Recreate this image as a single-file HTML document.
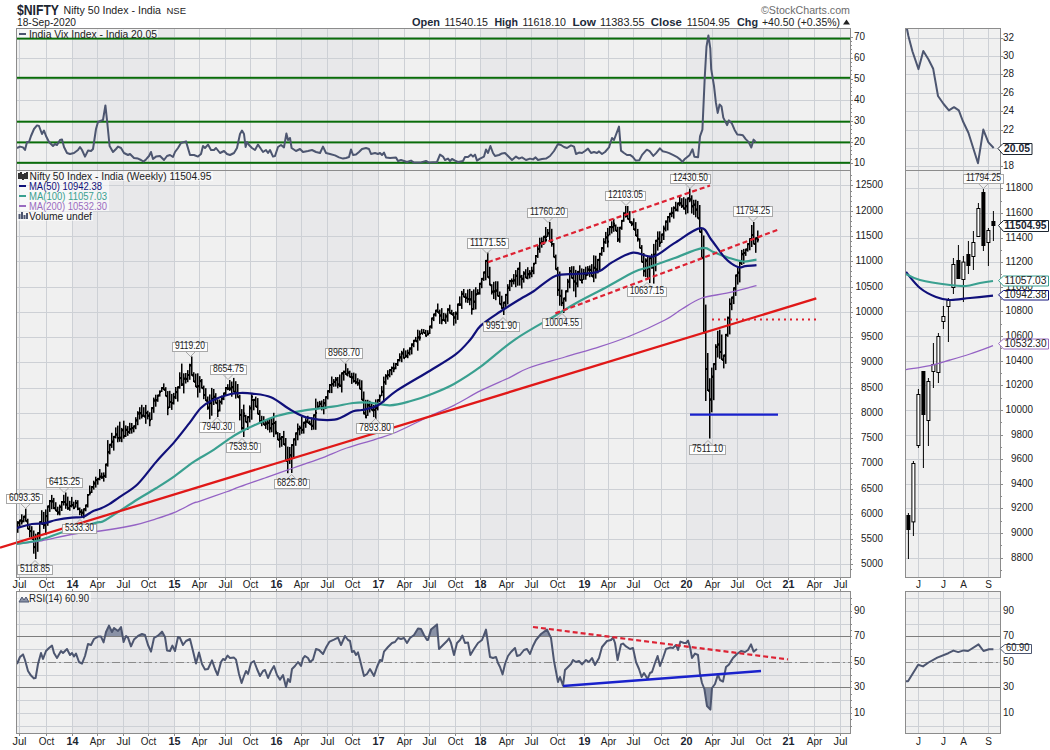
<!DOCTYPE html><html><head><meta charset="utf-8"><style>html,body{margin:0;padding:0;background:#fff;width:1050px;height:750px;overflow:hidden}svg{display:block}</style></head><body><svg width="1050" height="750" viewBox="0 0 1050 750" font-family='"Liberation Sans", sans-serif' shape-rendering="auto">
<rect width="1050" height="750" fill="#fff"/>
<text x="17" y="15" font-size="14" font-weight="bold" fill="#1c2530" text-anchor="start" textLength="42" lengthAdjust="spacingAndGlyphs" >$NIFTY</text>
<text x="63.5" y="14" font-size="11" font-weight="normal" fill="#222" text-anchor="start" textLength="97.5" lengthAdjust="spacingAndGlyphs" >Nifty 50 Index - India</text>
<text x="166.5" y="14" font-size="9.5" font-weight="normal" fill="#222" text-anchor="start" textLength="19.5" lengthAdjust="spacingAndGlyphs" >NSE</text>
<text x="17" y="26" font-size="10" font-weight="normal" fill="#222" text-anchor="start" textLength="59" lengthAdjust="spacingAndGlyphs" >18-Sep-2020</text>
<text x="761" y="14" font-size="11" font-weight="normal" fill="#6d6d6d" text-anchor="start" textLength="89" lengthAdjust="spacingAndGlyphs" >©StockCharts.com</text>
<text x="412" y="25.5" font-size="11" font-weight="bold" fill="#1c2a3a" text-anchor="start" textLength="28" lengthAdjust="spacingAndGlyphs" >Open</text>
<text x="444.4" y="25.5" font-size="11" font-weight="normal" fill="#222" text-anchor="start" textLength="43.6" lengthAdjust="spacingAndGlyphs" >11540.15</text>
<text x="494.4" y="25.5" font-size="11" font-weight="bold" fill="#1c2a3a" text-anchor="start" textLength="23.6" lengthAdjust="spacingAndGlyphs" >High</text>
<text x="522.4" y="25.5" font-size="11" font-weight="normal" fill="#222" text-anchor="start" textLength="43.6" lengthAdjust="spacingAndGlyphs" >11618.10</text>
<text x="572.4" y="25.5" font-size="11" font-weight="bold" fill="#1c2a3a" text-anchor="start" textLength="23.6" lengthAdjust="spacingAndGlyphs" >Low</text>
<text x="600" y="25.5" font-size="11" font-weight="normal" fill="#222" text-anchor="start" textLength="44.6" lengthAdjust="spacingAndGlyphs" >11383.55</text>
<text x="650.8" y="25.5" font-size="11" font-weight="bold" fill="#1c2a3a" text-anchor="start" textLength="31" lengthAdjust="spacingAndGlyphs" >Close</text>
<text x="686.7" y="25.5" font-size="11" font-weight="normal" fill="#222" text-anchor="start" textLength="43.3" lengthAdjust="spacingAndGlyphs" >11504.95</text>
<text x="737" y="25.5" font-size="11" font-weight="bold" fill="#1c2a3a" text-anchor="start" textLength="21" lengthAdjust="spacingAndGlyphs" >Chg</text>
<text x="762" y="25.5" font-size="11" font-weight="normal" fill="#222" text-anchor="start" textLength="78" lengthAdjust="spacingAndGlyphs" >+40.50 (+0.35%)</text>
<path d="M843 24.5 L850 24.5 L846.5 19.5 Z" fill="#222"/>
<rect x="16" y="28" width="56" height="142" fill="#f0f0f0"/>
<rect x="72" y="28" width="102" height="142" fill="#e8e8ea"/>
<rect x="174" y="28" width="102" height="142" fill="#f0f0f0"/>
<rect x="276" y="28" width="102" height="142" fill="#e8e8ea"/>
<rect x="378" y="28" width="102" height="142" fill="#f0f0f0"/>
<rect x="480" y="28" width="104" height="142" fill="#e8e8ea"/>
<rect x="584" y="28" width="102" height="142" fill="#f0f0f0"/>
<rect x="686" y="28" width="102" height="142" fill="#e8e8ea"/>
<rect x="788" y="28" width="62" height="142" fill="#f0f0f0"/>
<rect x="19" y="28" width="1" height="142" fill="#cdd0d5"/>
<rect x="46" y="28" width="1" height="142" fill="#cdd0d5"/>
<rect x="72" y="28" width="1" height="142" fill="#cdd0d5"/>
<rect x="97" y="28" width="1" height="142" fill="#cdd0d5"/>
<rect x="123" y="28" width="1" height="142" fill="#cdd0d5"/>
<rect x="148" y="28" width="1" height="142" fill="#cdd0d5"/>
<rect x="174" y="28" width="1" height="142" fill="#cdd0d5"/>
<rect x="199" y="28" width="1" height="142" fill="#cdd0d5"/>
<rect x="225" y="28" width="1" height="142" fill="#cdd0d5"/>
<rect x="250" y="28" width="1" height="142" fill="#cdd0d5"/>
<rect x="276" y="28" width="1" height="142" fill="#cdd0d5"/>
<rect x="301" y="28" width="1" height="142" fill="#cdd0d5"/>
<rect x="327" y="28" width="1" height="142" fill="#cdd0d5"/>
<rect x="352" y="28" width="1" height="142" fill="#cdd0d5"/>
<rect x="378" y="28" width="1" height="142" fill="#cdd0d5"/>
<rect x="404" y="28" width="1" height="142" fill="#cdd0d5"/>
<rect x="429" y="28" width="1" height="142" fill="#cdd0d5"/>
<rect x="455" y="28" width="1" height="142" fill="#cdd0d5"/>
<rect x="480" y="28" width="1" height="142" fill="#cdd0d5"/>
<rect x="506" y="28" width="1" height="142" fill="#cdd0d5"/>
<rect x="531" y="28" width="1" height="142" fill="#cdd0d5"/>
<rect x="557" y="28" width="1" height="142" fill="#cdd0d5"/>
<rect x="584" y="28" width="1" height="142" fill="#cdd0d5"/>
<rect x="608" y="28" width="1" height="142" fill="#cdd0d5"/>
<rect x="633" y="28" width="1" height="142" fill="#cdd0d5"/>
<rect x="661" y="28" width="1" height="142" fill="#cdd0d5"/>
<rect x="686" y="28" width="1" height="142" fill="#cdd0d5"/>
<rect x="712" y="28" width="1" height="142" fill="#cdd0d5"/>
<rect x="737" y="28" width="1" height="142" fill="#cdd0d5"/>
<rect x="763" y="28" width="1" height="142" fill="#cdd0d5"/>
<rect x="788" y="28" width="1" height="142" fill="#cdd0d5"/>
<rect x="814" y="28" width="1" height="142" fill="#cdd0d5"/>
<rect x="840" y="28" width="1" height="142" fill="#cdd0d5"/>
<rect x="16" y="163" width="834" height="1" fill="#cdd0d5"/>
<rect x="16" y="142" width="834" height="1" fill="#cdd0d5"/>
<rect x="16" y="121" width="834" height="1" fill="#cdd0d5"/>
<rect x="16" y="100" width="834" height="1" fill="#cdd0d5"/>
<rect x="16" y="79" width="834" height="1" fill="#cdd0d5"/>
<rect x="16" y="58" width="834" height="1" fill="#cdd0d5"/>
<rect x="16" y="37" width="834" height="1" fill="#cdd0d5"/>
<rect x="16" y="37.60" width="834" height="2" fill="#0a6c0a"/>
<rect x="16" y="76.80" width="834" height="2" fill="#0a6c0a"/>
<rect x="16" y="120.70" width="834" height="2" fill="#0a6c0a"/>
<rect x="16" y="141.40" width="834" height="2" fill="#0a6c0a"/>
<rect x="16" y="161.80" width="834" height="2" fill="#0a6c0a"/>
<polyline points="17.0,148.0 20.0,146.6 23.0,147.4 25.0,150.0 27.0,142.0 29.0,142.0 31.0,136.0 34.0,129.0 37.0,125.4 39.0,126.0 42.0,134.0 44.0,130.6 46.0,136.0 49.0,142.0 53.0,146.0 55.0,144.0 57.0,145.0 60.0,140.0 62.0,139.4 64.0,147.0 67.0,153.0 70.0,154.0 74.0,153.0 78.0,150.0 80.0,147.0 82.0,150.0 85.0,156.6 88.0,150.6 91.0,151.0 93.0,149.0 96.0,129.0 98.0,122.0 101.0,120.6 103.0,120.0 105.4,105.4 107.0,120.0 109.6,146.0 113.0,152.0 116.0,149.0 118.0,146.6 121.0,148.0 124.0,153.0 128.0,155.0 130.0,154.0 134.0,158.0 138.0,158.6 141.0,160.0 143.6,161.6 146.0,159.4 149.0,156.0 151.0,152.0 153.0,159.0 156.0,156.6 160.0,156.0 164.0,160.0 167.0,156.0 170.0,155.0 173.0,157.0 175.0,152.0 178.0,148.0 181.0,143.0 186.0,141.4 190.0,155.0 194.0,155.0 198.0,156.6 201.0,154.0 203.0,146.0 205.0,148.0 208.0,144.6 211.0,150.0 214.0,150.0 216.0,148.0 220.0,153.0 224.0,151.0 227.0,154.0 230.0,155.0 234.0,153.0 237.0,148.0 240.0,134.0 242.0,130.6 244.0,134.0 245.6,147.0 247.0,142.0 249.0,145.0 252.0,148.0 255.0,150.0 258.0,144.6 261.0,149.0 263.0,152.0 266.0,150.0 268.0,153.0 270.0,150.0 273.0,156.6 275.0,156.0 278.0,147.0 281.0,145.0 284.0,147.4 286.4,133.4 288.0,140.0 290.0,138.0 291.6,148.0 296.0,151.0 300.0,149.0 303.0,152.0 308.0,151.0 312.0,150.0 316.0,152.0 320.0,153.0 323.0,146.6 326.0,153.0 330.0,154.0 335.0,155.4 339.0,157.4 343.0,158.6 346.0,158.0 349.0,157.0 351.0,149.4 353.0,155.0 356.0,154.6 359.0,152.0 362.0,149.0 366.0,148.0 369.0,149.0 371.0,154.0 375.0,153.0 378.0,154.0 380.0,153.0 382.0,155.0 384.0,152.6 386.0,157.4 390.0,158.0 396.0,157.4 398.0,161.0 401.0,160.0 404.0,161.0 407.0,162.0 411.0,160.6 414.0,162.6 420.0,162.6 426.0,161.0 429.0,162.6 437.0,162.0 440.0,154.6 443.0,156.6 445.0,160.0 448.0,158.6 450.0,161.0 452.0,159.0 455.0,160.6 458.0,162.0 463.0,161.0 465.0,157.0 468.0,157.0 471.0,154.6 473.0,156.6 475.0,154.6 477.0,160.6 480.0,158.6 484.0,156.6 486.0,149.4 488.0,153.0 490.4,146.0 493.0,153.0 495.0,156.0 499.0,155.0 502.0,153.4 505.0,153.0 508.0,156.0 512.0,160.0 516.0,156.6 519.0,158.6 522.0,157.4 526.0,160.0 530.0,158.6 533.0,159.4 535.6,157.4 538.0,160.0 542.0,159.0 546.0,158.6 550.0,156.0 554.0,151.0 558.0,144.0 561.0,145.0 564.0,147.0 567.0,148.0 571.0,145.4 574.0,146.6 576.0,154.0 579.0,152.6 582.0,153.0 585.0,151.0 588.0,148.6 591.0,153.0 594.0,152.0 597.0,153.0 599.0,151.4 602.0,154.0 605.0,152.0 609.0,147.4 612.0,138.0 614.0,140.0 619.0,126.6 621.0,150.6 624.0,153.0 627.0,155.0 630.0,154.9 632.8,156.8 635.6,160.5 639.3,160.2 642.1,154.9 646.8,149.7 649.6,151.2 653.3,155.9 656.1,153.1 659.9,148.4 662.7,151.2 666.4,152.1 669.2,153.1 672.9,154.9 676.7,156.8 680.4,159.6 682.3,162.0 685.1,158.7 687.9,156.4 689.7,154.9 692.5,149.3 694.4,156.8 698.1,157.2 700.0,136.3 702.4,129.7 704.7,78.4 706.5,46.7 708.4,35.5 710.3,48.5 711.2,69.1 714.0,85.9 715.9,102.7 717.7,112.9 719.6,104.5 721.5,106.4 723.3,117.6 727.1,125.1 728.9,120.4 731.7,123.2 734.5,129.7 737.3,134.4 740.1,134.8 742.9,135.3 745.7,139.1 748.5,141.9 751.3,147.5 753.6,139.6 756.0,142.2" fill="none" stroke="#4d5670" stroke-width="2" stroke-linejoin="round" />
<rect x="17" y="29" width="141" height="8.5" fill="#fff" fill-opacity="0.55"/>
<rect x="19" y="33" width="7" height="2" fill="#4d5670"/>
<text x="29" y="37.5" font-size="10" font-weight="normal" fill="#222" text-anchor="start" textLength="128" lengthAdjust="spacingAndGlyphs" >India Vix Index - India 20.05</text>
<text x="854" y="165.7" font-size="10" font-weight="normal" fill="#222" text-anchor="start" textLength="11" lengthAdjust="spacingAndGlyphs" >10</text>
<text x="854" y="144.7" font-size="10" font-weight="normal" fill="#222" text-anchor="start" textLength="11" lengthAdjust="spacingAndGlyphs" >20</text>
<text x="854" y="123.69999999999999" font-size="10" font-weight="normal" fill="#222" text-anchor="start" textLength="11" lengthAdjust="spacingAndGlyphs" >30</text>
<text x="854" y="102.69999999999999" font-size="10" font-weight="normal" fill="#222" text-anchor="start" textLength="11" lengthAdjust="spacingAndGlyphs" >40</text>
<text x="854" y="81.69999999999999" font-size="10" font-weight="normal" fill="#222" text-anchor="start" textLength="11" lengthAdjust="spacingAndGlyphs" >50</text>
<text x="854" y="60.69999999999999" font-size="10" font-weight="normal" fill="#222" text-anchor="start" textLength="11" lengthAdjust="spacingAndGlyphs" >60</text>
<text x="854" y="39.69999999999999" font-size="10" font-weight="normal" fill="#222" text-anchor="start" textLength="11" lengthAdjust="spacingAndGlyphs" >70</text>
<rect x="850" y="163" width="3" height="1" fill="#8c8c8c"/>
<rect x="850" y="159" width="2" height="1" fill="#8c8c8c"/>
<rect x="850" y="154" width="2" height="1" fill="#8c8c8c"/>
<rect x="850" y="150" width="2" height="1" fill="#8c8c8c"/>
<rect x="850" y="146" width="2" height="1" fill="#8c8c8c"/>
<rect x="850" y="142" width="3" height="1" fill="#8c8c8c"/>
<rect x="850" y="138" width="2" height="1" fill="#8c8c8c"/>
<rect x="850" y="133" width="2" height="1" fill="#8c8c8c"/>
<rect x="850" y="129" width="2" height="1" fill="#8c8c8c"/>
<rect x="850" y="125" width="2" height="1" fill="#8c8c8c"/>
<rect x="850" y="121" width="3" height="1" fill="#8c8c8c"/>
<rect x="850" y="116" width="2" height="1" fill="#8c8c8c"/>
<rect x="850" y="112" width="2" height="1" fill="#8c8c8c"/>
<rect x="850" y="108" width="2" height="1" fill="#8c8c8c"/>
<rect x="850" y="104" width="2" height="1" fill="#8c8c8c"/>
<rect x="850" y="100" width="3" height="1" fill="#8c8c8c"/>
<rect x="850" y="95" width="2" height="1" fill="#8c8c8c"/>
<rect x="850" y="91" width="2" height="1" fill="#8c8c8c"/>
<rect x="850" y="87" width="2" height="1" fill="#8c8c8c"/>
<rect x="850" y="83" width="2" height="1" fill="#8c8c8c"/>
<rect x="850" y="79" width="3" height="1" fill="#8c8c8c"/>
<rect x="850" y="74" width="2" height="1" fill="#8c8c8c"/>
<rect x="850" y="70" width="2" height="1" fill="#8c8c8c"/>
<rect x="850" y="66" width="2" height="1" fill="#8c8c8c"/>
<rect x="850" y="62" width="2" height="1" fill="#8c8c8c"/>
<rect x="850" y="58" width="3" height="1" fill="#8c8c8c"/>
<rect x="850" y="53" width="2" height="1" fill="#8c8c8c"/>
<rect x="850" y="49" width="2" height="1" fill="#8c8c8c"/>
<rect x="850" y="45" width="2" height="1" fill="#8c8c8c"/>
<rect x="850" y="41" width="2" height="1" fill="#8c8c8c"/>
<rect x="850" y="37" width="3" height="1" fill="#8c8c8c"/>
<rect x="16" y="170" width="56" height="407" fill="#f0f0f0"/>
<rect x="72" y="170" width="102" height="407" fill="#e8e8ea"/>
<rect x="174" y="170" width="102" height="407" fill="#f0f0f0"/>
<rect x="276" y="170" width="102" height="407" fill="#e8e8ea"/>
<rect x="378" y="170" width="102" height="407" fill="#f0f0f0"/>
<rect x="480" y="170" width="104" height="407" fill="#e8e8ea"/>
<rect x="584" y="170" width="102" height="407" fill="#f0f0f0"/>
<rect x="686" y="170" width="102" height="407" fill="#e8e8ea"/>
<rect x="788" y="170" width="62" height="407" fill="#f0f0f0"/>
<rect x="19" y="170" width="1" height="407" fill="#cdd0d5"/>
<rect x="46" y="170" width="1" height="407" fill="#cdd0d5"/>
<rect x="72" y="170" width="1" height="407" fill="#cdd0d5"/>
<rect x="97" y="170" width="1" height="407" fill="#cdd0d5"/>
<rect x="123" y="170" width="1" height="407" fill="#cdd0d5"/>
<rect x="148" y="170" width="1" height="407" fill="#cdd0d5"/>
<rect x="174" y="170" width="1" height="407" fill="#cdd0d5"/>
<rect x="199" y="170" width="1" height="407" fill="#cdd0d5"/>
<rect x="225" y="170" width="1" height="407" fill="#cdd0d5"/>
<rect x="250" y="170" width="1" height="407" fill="#cdd0d5"/>
<rect x="276" y="170" width="1" height="407" fill="#cdd0d5"/>
<rect x="301" y="170" width="1" height="407" fill="#cdd0d5"/>
<rect x="327" y="170" width="1" height="407" fill="#cdd0d5"/>
<rect x="352" y="170" width="1" height="407" fill="#cdd0d5"/>
<rect x="378" y="170" width="1" height="407" fill="#cdd0d5"/>
<rect x="404" y="170" width="1" height="407" fill="#cdd0d5"/>
<rect x="429" y="170" width="1" height="407" fill="#cdd0d5"/>
<rect x="455" y="170" width="1" height="407" fill="#cdd0d5"/>
<rect x="480" y="170" width="1" height="407" fill="#cdd0d5"/>
<rect x="506" y="170" width="1" height="407" fill="#cdd0d5"/>
<rect x="531" y="170" width="1" height="407" fill="#cdd0d5"/>
<rect x="557" y="170" width="1" height="407" fill="#cdd0d5"/>
<rect x="584" y="170" width="1" height="407" fill="#cdd0d5"/>
<rect x="608" y="170" width="1" height="407" fill="#cdd0d5"/>
<rect x="633" y="170" width="1" height="407" fill="#cdd0d5"/>
<rect x="661" y="170" width="1" height="407" fill="#cdd0d5"/>
<rect x="686" y="170" width="1" height="407" fill="#cdd0d5"/>
<rect x="712" y="170" width="1" height="407" fill="#cdd0d5"/>
<rect x="737" y="170" width="1" height="407" fill="#cdd0d5"/>
<rect x="763" y="170" width="1" height="407" fill="#cdd0d5"/>
<rect x="788" y="170" width="1" height="407" fill="#cdd0d5"/>
<rect x="814" y="170" width="1" height="407" fill="#cdd0d5"/>
<rect x="840" y="170" width="1" height="407" fill="#cdd0d5"/>
<rect x="16" y="564" width="834" height="1" fill="#cdd0d5"/>
<rect x="16" y="539" width="834" height="1" fill="#cdd0d5"/>
<rect x="16" y="514" width="834" height="1" fill="#cdd0d5"/>
<rect x="16" y="489" width="834" height="1" fill="#cdd0d5"/>
<rect x="16" y="463" width="834" height="1" fill="#cdd0d5"/>
<rect x="16" y="438" width="834" height="1" fill="#cdd0d5"/>
<rect x="16" y="413" width="834" height="1" fill="#cdd0d5"/>
<rect x="16" y="388" width="834" height="1" fill="#cdd0d5"/>
<rect x="16" y="362" width="834" height="1" fill="#cdd0d5"/>
<rect x="16" y="337" width="834" height="1" fill="#cdd0d5"/>
<rect x="16" y="312" width="834" height="1" fill="#cdd0d5"/>
<rect x="16" y="287" width="834" height="1" fill="#cdd0d5"/>
<rect x="16" y="261" width="834" height="1" fill="#cdd0d5"/>
<rect x="16" y="236" width="834" height="1" fill="#cdd0d5"/>
<rect x="16" y="211" width="834" height="1" fill="#cdd0d5"/>
<rect x="16" y="185" width="834" height="1" fill="#cdd0d5"/>
<rect x="17" y="521.1" width="1.5" height="11.7" fill="#000"/>
<rect x="16" y="527.0" width="1" height="2" fill="#000"/>
<rect x="18" y="521.7" width="1" height="2" fill="#000"/>
<rect x="19" y="519.6" width="1.5" height="6.5" fill="#000"/>
<rect x="18" y="521.7" width="1" height="2" fill="#000"/>
<rect x="20" y="519.6" width="1" height="2" fill="#000"/>
<rect x="21" y="514.3" width="1.5" height="10.2" fill="#000"/>
<rect x="20" y="519.6" width="1" height="2" fill="#000"/>
<rect x="22" y="520.4" width="1" height="2" fill="#000"/>
<rect x="23" y="515.7" width="1.5" height="6.6" fill="#000"/>
<rect x="22" y="520.4" width="1" height="2" fill="#000"/>
<rect x="24" y="515.7" width="1" height="2" fill="#000"/>
<rect x="25" y="508.5" width="1.5" height="13.2" fill="#000"/>
<rect x="24" y="515.7" width="1" height="2" fill="#000"/>
<rect x="26" y="520.2" width="1" height="2" fill="#000"/>
<rect x="27" y="518.7" width="1.5" height="10.6" fill="#000"/>
<rect x="26" y="520.2" width="1" height="2" fill="#000"/>
<rect x="28" y="527.9" width="1" height="2" fill="#000"/>
<rect x="29" y="525.3" width="1.5" height="12.1" fill="#000"/>
<rect x="28" y="527.9" width="1" height="2" fill="#000"/>
<rect x="30" y="530.1" width="1" height="2" fill="#000"/>
<rect x="31" y="526.2" width="1.5" height="13.0" fill="#000"/>
<rect x="30" y="530.1" width="1" height="2" fill="#000"/>
<rect x="32" y="537.7" width="1" height="2" fill="#000"/>
<rect x="33" y="530.5" width="1.5" height="23.2" fill="#000"/>
<rect x="32" y="537.7" width="1" height="2" fill="#000"/>
<rect x="34" y="546.1" width="1" height="2" fill="#000"/>
<rect x="35" y="533.7" width="1.5" height="25.3" fill="#000"/>
<rect x="34" y="546.1" width="1" height="2" fill="#000"/>
<rect x="36" y="540.0" width="1" height="2" fill="#000"/>
<rect x="37" y="532.2" width="1.5" height="19.6" fill="#000"/>
<rect x="36" y="540.0" width="1" height="2" fill="#000"/>
<rect x="38" y="532.2" width="1" height="2" fill="#000"/>
<rect x="39" y="521.3" width="1.5" height="18.5" fill="#000"/>
<rect x="38" y="532.2" width="1" height="2" fill="#000"/>
<rect x="40" y="521.3" width="1" height="2" fill="#000"/>
<rect x="41" y="510.2" width="1.5" height="14.3" fill="#000"/>
<rect x="40" y="521.3" width="1" height="2" fill="#000"/>
<rect x="42" y="523.0" width="1" height="2" fill="#000"/>
<rect x="43" y="511.9" width="1.5" height="17.0" fill="#000"/>
<rect x="42" y="523.0" width="1" height="2" fill="#000"/>
<rect x="44" y="524.1" width="1" height="2" fill="#000"/>
<rect x="45" y="509.4" width="1.5" height="25.5" fill="#000"/>
<rect x="44" y="524.1" width="1" height="2" fill="#000"/>
<rect x="46" y="515.1" width="1" height="2" fill="#000"/>
<rect x="47" y="505.5" width="1.5" height="20.3" fill="#000"/>
<rect x="46" y="515.1" width="1" height="2" fill="#000"/>
<rect x="48" y="505.5" width="1" height="2" fill="#000"/>
<rect x="49" y="500.0" width="1.5" height="11.9" fill="#000"/>
<rect x="48" y="505.5" width="1" height="2" fill="#000"/>
<rect x="50" y="500.1" width="1" height="2" fill="#000"/>
<rect x="51" y="494.9" width="1.5" height="14.3" fill="#000"/>
<rect x="50" y="500.1" width="1" height="2" fill="#000"/>
<rect x="52" y="500.4" width="1" height="2" fill="#000"/>
<rect x="53" y="497.9" width="1.5" height="11.2" fill="#000"/>
<rect x="52" y="500.4" width="1" height="2" fill="#000"/>
<rect x="54" y="507.2" width="1" height="2" fill="#000"/>
<rect x="55" y="502.2" width="1.5" height="9.0" fill="#000"/>
<rect x="54" y="507.2" width="1" height="2" fill="#000"/>
<rect x="56" y="509.7" width="1" height="2" fill="#000"/>
<rect x="57" y="506.7" width="1.5" height="8.5" fill="#000"/>
<rect x="56" y="509.7" width="1" height="2" fill="#000"/>
<rect x="58" y="511.5" width="1" height="2" fill="#000"/>
<rect x="59" y="504.6" width="1.5" height="10.7" fill="#000"/>
<rect x="58" y="511.5" width="1" height="2" fill="#000"/>
<rect x="60" y="505.9" width="1" height="2" fill="#000"/>
<rect x="61" y="501.0" width="1.5" height="10.0" fill="#000"/>
<rect x="60" y="505.9" width="1" height="2" fill="#000"/>
<rect x="62" y="501.0" width="1" height="2" fill="#000"/>
<rect x="63" y="494.8" width="1.5" height="10.7" fill="#000"/>
<rect x="62" y="501.0" width="1" height="2" fill="#000"/>
<rect x="64" y="501.0" width="1" height="2" fill="#000"/>
<rect x="65" y="492.5" width="1.5" height="16.3" fill="#000"/>
<rect x="64" y="501.0" width="1" height="2" fill="#000"/>
<rect x="66" y="503.6" width="1" height="2" fill="#000"/>
<rect x="67" y="496.6" width="1.5" height="13.3" fill="#000"/>
<rect x="66" y="503.6" width="1" height="2" fill="#000"/>
<rect x="68" y="507.3" width="1" height="2" fill="#000"/>
<rect x="69" y="500.8" width="1.5" height="10.0" fill="#000"/>
<rect x="68" y="507.3" width="1" height="2" fill="#000"/>
<rect x="70" y="505.0" width="1" height="2" fill="#000"/>
<rect x="71" y="496.9" width="1.5" height="10.5" fill="#000"/>
<rect x="70" y="505.0" width="1" height="2" fill="#000"/>
<rect x="72" y="504.0" width="1" height="2" fill="#000"/>
<rect x="73" y="501.7" width="1.5" height="7.5" fill="#000"/>
<rect x="72" y="504.0" width="1" height="2" fill="#000"/>
<rect x="74" y="506.9" width="1" height="2" fill="#000"/>
<rect x="75" y="499.9" width="1.5" height="7.7" fill="#000"/>
<rect x="74" y="506.6" width="1" height="2" fill="#000"/>
<rect x="76" y="502.0" width="1" height="2" fill="#000"/>
<rect x="77" y="500.2" width="1.5" height="10.0" fill="#000"/>
<rect x="76" y="502.0" width="1" height="2" fill="#000"/>
<rect x="78" y="507.8" width="1" height="2" fill="#000"/>
<rect x="79" y="507.5" width="1.5" height="7.7" fill="#000"/>
<rect x="78" y="507.8" width="1" height="2" fill="#000"/>
<rect x="80" y="510.8" width="1" height="2" fill="#000"/>
<rect x="81" y="509.2" width="1.5" height="7.8" fill="#000"/>
<rect x="80" y="510.8" width="1" height="2" fill="#000"/>
<rect x="82" y="511.7" width="1" height="2" fill="#000"/>
<rect x="83" y="508.3" width="1.5" height="10.0" fill="#000"/>
<rect x="82" y="511.7" width="1" height="2" fill="#000"/>
<rect x="84" y="508.3" width="1" height="2" fill="#000"/>
<rect x="85" y="504.5" width="1.5" height="6.8" fill="#000"/>
<rect x="84" y="508.3" width="1" height="2" fill="#000"/>
<rect x="86" y="504.5" width="1" height="2" fill="#000"/>
<rect x="87" y="494.0" width="1.5" height="13.5" fill="#000"/>
<rect x="86" y="504.5" width="1" height="2" fill="#000"/>
<rect x="88" y="494.0" width="1" height="2" fill="#000"/>
<rect x="89" y="485.5" width="1.5" height="9.9" fill="#000"/>
<rect x="88" y="494.0" width="1" height="2" fill="#000"/>
<rect x="90" y="491.7" width="1" height="2" fill="#000"/>
<rect x="91" y="486.0" width="1.5" height="7.0" fill="#000"/>
<rect x="90" y="491.7" width="1" height="2" fill="#000"/>
<rect x="92" y="486.0" width="1" height="2" fill="#000"/>
<rect x="93" y="480.7" width="1.5" height="8.9" fill="#000"/>
<rect x="92" y="486.0" width="1" height="2" fill="#000"/>
<rect x="94" y="482.4" width="1" height="2" fill="#000"/>
<rect x="95" y="476.7" width="1.5" height="10.9" fill="#000"/>
<rect x="94" y="482.4" width="1" height="2" fill="#000"/>
<rect x="96" y="479.1" width="1" height="2" fill="#000"/>
<rect x="97" y="477.9" width="1.5" height="6.8" fill="#000"/>
<rect x="96" y="479.1" width="1" height="2" fill="#000"/>
<rect x="98" y="477.9" width="1" height="2" fill="#000"/>
<rect x="99" y="469.1" width="1.5" height="11.2" fill="#000"/>
<rect x="98" y="477.9" width="1" height="2" fill="#000"/>
<rect x="100" y="475.7" width="1" height="2" fill="#000"/>
<rect x="101" y="472.6" width="1.5" height="6.3" fill="#000"/>
<rect x="100" y="475.7" width="1" height="2" fill="#000"/>
<rect x="102" y="476.3" width="1" height="2" fill="#000"/>
<rect x="103" y="472.4" width="1.5" height="9.2" fill="#000"/>
<rect x="102" y="476.3" width="1" height="2" fill="#000"/>
<rect x="104" y="474.9" width="1" height="2" fill="#000"/>
<rect x="105" y="463.6" width="1.5" height="14.3" fill="#000"/>
<rect x="104" y="474.9" width="1" height="2" fill="#000"/>
<rect x="106" y="463.6" width="1" height="2" fill="#000"/>
<rect x="107" y="440.1" width="1.5" height="26.5" fill="#000"/>
<rect x="106" y="463.6" width="1" height="2" fill="#000"/>
<rect x="108" y="451.2" width="1" height="2" fill="#000"/>
<rect x="109" y="443.8" width="1.5" height="10.5" fill="#000"/>
<rect x="108" y="451.2" width="1" height="2" fill="#000"/>
<rect x="110" y="443.8" width="1" height="2" fill="#000"/>
<rect x="111" y="432.8" width="1.5" height="15.1" fill="#000"/>
<rect x="110" y="443.8" width="1" height="2" fill="#000"/>
<rect x="112" y="440.7" width="1" height="2" fill="#000"/>
<rect x="113" y="435.9" width="1.5" height="14.7" fill="#000"/>
<rect x="112" y="440.7" width="1" height="2" fill="#000"/>
<rect x="114" y="435.9" width="1" height="2" fill="#000"/>
<rect x="115" y="427.4" width="1.5" height="11.0" fill="#000"/>
<rect x="114" y="435.9" width="1" height="2" fill="#000"/>
<rect x="116" y="433.5" width="1" height="2" fill="#000"/>
<rect x="117" y="425.6" width="1.5" height="16.7" fill="#000"/>
<rect x="116" y="433.5" width="1" height="2" fill="#000"/>
<rect x="118" y="437.1" width="1" height="2" fill="#000"/>
<rect x="119" y="421.7" width="1.5" height="20.1" fill="#000"/>
<rect x="118" y="437.1" width="1" height="2" fill="#000"/>
<rect x="120" y="436.8" width="1" height="2" fill="#000"/>
<rect x="121" y="427.9" width="1.5" height="14.3" fill="#000"/>
<rect x="120" y="436.8" width="1" height="2" fill="#000"/>
<rect x="122" y="429.2" width="1" height="2" fill="#000"/>
<rect x="123" y="420.7" width="1.5" height="18.0" fill="#000"/>
<rect x="122" y="429.2" width="1" height="2" fill="#000"/>
<rect x="124" y="435.0" width="1" height="2" fill="#000"/>
<rect x="125" y="425.4" width="1.5" height="11.6" fill="#000"/>
<rect x="124" y="435.0" width="1" height="2" fill="#000"/>
<rect x="126" y="428.8" width="1" height="2" fill="#000"/>
<rect x="127" y="426.1" width="1.5" height="9.7" fill="#000"/>
<rect x="126" y="428.8" width="1" height="2" fill="#000"/>
<rect x="128" y="431.0" width="1" height="2" fill="#000"/>
<rect x="129" y="422.8" width="1.5" height="11.1" fill="#000"/>
<rect x="128" y="431.0" width="1" height="2" fill="#000"/>
<rect x="130" y="428.2" width="1" height="2" fill="#000"/>
<rect x="131" y="423.0" width="1.5" height="10.6" fill="#000"/>
<rect x="130" y="428.2" width="1" height="2" fill="#000"/>
<rect x="132" y="427.1" width="1" height="2" fill="#000"/>
<rect x="133" y="425.4" width="1.5" height="6.9" fill="#000"/>
<rect x="132" y="427.1" width="1" height="2" fill="#000"/>
<rect x="134" y="425.4" width="1" height="2" fill="#000"/>
<rect x="135" y="417.2" width="1.5" height="12.0" fill="#000"/>
<rect x="134" y="425.4" width="1" height="2" fill="#000"/>
<rect x="136" y="419.4" width="1" height="2" fill="#000"/>
<rect x="137" y="411.2" width="1.5" height="14.0" fill="#000"/>
<rect x="136" y="419.4" width="1" height="2" fill="#000"/>
<rect x="138" y="412.4" width="1" height="2" fill="#000"/>
<rect x="139" y="407.2" width="1.5" height="12.3" fill="#000"/>
<rect x="138" y="412.4" width="1" height="2" fill="#000"/>
<rect x="140" y="412.2" width="1" height="2" fill="#000"/>
<rect x="141" y="404.8" width="1.5" height="13.7" fill="#000"/>
<rect x="140" y="412.2" width="1" height="2" fill="#000"/>
<rect x="142" y="414.7" width="1" height="2" fill="#000"/>
<rect x="143" y="407.2" width="1.5" height="9.7" fill="#000"/>
<rect x="142" y="414.7" width="1" height="2" fill="#000"/>
<rect x="144" y="415.4" width="1" height="2" fill="#000"/>
<rect x="145" y="404.9" width="1.5" height="18.9" fill="#000"/>
<rect x="144" y="415.4" width="1" height="2" fill="#000"/>
<rect x="146" y="411.9" width="1" height="2" fill="#000"/>
<rect x="147" y="410.7" width="1.5" height="8.7" fill="#000"/>
<rect x="146" y="411.9" width="1" height="2" fill="#000"/>
<rect x="148" y="414.7" width="1" height="2" fill="#000"/>
<rect x="149" y="412.3" width="1.5" height="13.9" fill="#000"/>
<rect x="148" y="414.7" width="1" height="2" fill="#000"/>
<rect x="150" y="419.2" width="1" height="2" fill="#000"/>
<rect x="151" y="407.1" width="1.5" height="12.8" fill="#000"/>
<rect x="150" y="418.9" width="1" height="2" fill="#000"/>
<rect x="152" y="407.1" width="1" height="2" fill="#000"/>
<rect x="153" y="397.6" width="1.5" height="15.2" fill="#000"/>
<rect x="152" y="407.1" width="1" height="2" fill="#000"/>
<rect x="154" y="399.5" width="1" height="2" fill="#000"/>
<rect x="155" y="394.7" width="1.5" height="12.0" fill="#000"/>
<rect x="154" y="399.5" width="1" height="2" fill="#000"/>
<rect x="156" y="399.2" width="1" height="2" fill="#000"/>
<rect x="157" y="394.6" width="1.5" height="7.2" fill="#000"/>
<rect x="156" y="399.2" width="1" height="2" fill="#000"/>
<rect x="158" y="394.6" width="1" height="2" fill="#000"/>
<rect x="159" y="390.4" width="1.5" height="6.2" fill="#000"/>
<rect x="158" y="394.6" width="1" height="2" fill="#000"/>
<rect x="160" y="390.8" width="1" height="2" fill="#000"/>
<rect x="161" y="387.1" width="1.5" height="4.9" fill="#000"/>
<rect x="160" y="390.8" width="1" height="2" fill="#000"/>
<rect x="162" y="387.1" width="1" height="2" fill="#000"/>
<rect x="163" y="383.4" width="1.5" height="6.8" fill="#000"/>
<rect x="162" y="387.1" width="1" height="2" fill="#000"/>
<rect x="164" y="388.7" width="1" height="2" fill="#000"/>
<rect x="165" y="387.2" width="1.5" height="9.3" fill="#000"/>
<rect x="164" y="388.7" width="1" height="2" fill="#000"/>
<rect x="166" y="395.1" width="1" height="2" fill="#000"/>
<rect x="167" y="391.1" width="1.5" height="24.1" fill="#000"/>
<rect x="166" y="395.1" width="1" height="2" fill="#000"/>
<rect x="168" y="406.7" width="1" height="2" fill="#000"/>
<rect x="169" y="390.8" width="1.5" height="17.2" fill="#000"/>
<rect x="168" y="406.7" width="1" height="2" fill="#000"/>
<rect x="170" y="401.0" width="1" height="2" fill="#000"/>
<rect x="171" y="393.9" width="1.5" height="16.0" fill="#000"/>
<rect x="170" y="401.0" width="1" height="2" fill="#000"/>
<rect x="172" y="402.1" width="1" height="2" fill="#000"/>
<rect x="173" y="392.9" width="1.5" height="11.6" fill="#000"/>
<rect x="172" y="402.1" width="1" height="2" fill="#000"/>
<rect x="174" y="396.2" width="1" height="2" fill="#000"/>
<rect x="175" y="387.0" width="1.5" height="12.1" fill="#000"/>
<rect x="174" y="396.2" width="1" height="2" fill="#000"/>
<rect x="176" y="391.1" width="1" height="2" fill="#000"/>
<rect x="177" y="386.3" width="1.5" height="15.3" fill="#000"/>
<rect x="176" y="391.1" width="1" height="2" fill="#000"/>
<rect x="178" y="386.3" width="1" height="2" fill="#000"/>
<rect x="179" y="372.3" width="1.5" height="16.4" fill="#000"/>
<rect x="178" y="386.3" width="1" height="2" fill="#000"/>
<rect x="180" y="377.1" width="1" height="2" fill="#000"/>
<rect x="181" y="363.6" width="1.5" height="22.4" fill="#000"/>
<rect x="180" y="377.1" width="1" height="2" fill="#000"/>
<rect x="182" y="383.5" width="1" height="2" fill="#000"/>
<rect x="183" y="373.3" width="1.5" height="20.1" fill="#000"/>
<rect x="182" y="383.5" width="1" height="2" fill="#000"/>
<rect x="184" y="377.7" width="1" height="2" fill="#000"/>
<rect x="185" y="373.0" width="1.5" height="10.5" fill="#000"/>
<rect x="184" y="377.7" width="1" height="2" fill="#000"/>
<rect x="186" y="377.9" width="1" height="2" fill="#000"/>
<rect x="187" y="370.1" width="1.5" height="12.1" fill="#000"/>
<rect x="186" y="377.9" width="1" height="2" fill="#000"/>
<rect x="188" y="374.0" width="1" height="2" fill="#000"/>
<rect x="189" y="363.7" width="1.5" height="16.1" fill="#000"/>
<rect x="188" y="374.0" width="1" height="2" fill="#000"/>
<rect x="190" y="364.3" width="1" height="2" fill="#000"/>
<rect x="191" y="356.5" width="1.5" height="19.3" fill="#000"/>
<rect x="190" y="364.3" width="1" height="2" fill="#000"/>
<rect x="192" y="374.3" width="1" height="2" fill="#000"/>
<rect x="193" y="372.2" width="1.5" height="9.9" fill="#000"/>
<rect x="192" y="374.3" width="1" height="2" fill="#000"/>
<rect x="194" y="380.6" width="1" height="2" fill="#000"/>
<rect x="195" y="373.6" width="1.5" height="13.6" fill="#000"/>
<rect x="194" y="380.6" width="1" height="2" fill="#000"/>
<rect x="196" y="385.7" width="1" height="2" fill="#000"/>
<rect x="197" y="373.3" width="1.5" height="24.2" fill="#000"/>
<rect x="196" y="385.7" width="1" height="2" fill="#000"/>
<rect x="198" y="385.2" width="1" height="2" fill="#000"/>
<rect x="199" y="376.1" width="1.5" height="16.7" fill="#000"/>
<rect x="198" y="385.2" width="1" height="2" fill="#000"/>
<rect x="200" y="380.1" width="1" height="2" fill="#000"/>
<rect x="201" y="379.0" width="1.5" height="9.6" fill="#000"/>
<rect x="200" y="380.1" width="1" height="2" fill="#000"/>
<rect x="202" y="387.1" width="1" height="2" fill="#000"/>
<rect x="203" y="385.6" width="1.5" height="13.6" fill="#000"/>
<rect x="202" y="387.1" width="1" height="2" fill="#000"/>
<rect x="204" y="394.0" width="1" height="2" fill="#000"/>
<rect x="205" y="388.2" width="1.5" height="12.9" fill="#000"/>
<rect x="204" y="394.0" width="1" height="2" fill="#000"/>
<rect x="206" y="399.6" width="1" height="2" fill="#000"/>
<rect x="207" y="396.5" width="1.5" height="13.3" fill="#000"/>
<rect x="206" y="399.6" width="1" height="2" fill="#000"/>
<rect x="208" y="406.7" width="1" height="2" fill="#000"/>
<rect x="209" y="394.4" width="1.5" height="24.8" fill="#000"/>
<rect x="208" y="406.7" width="1" height="2" fill="#000"/>
<rect x="210" y="402.1" width="1" height="2" fill="#000"/>
<rect x="211" y="387.9" width="1.5" height="27.8" fill="#000"/>
<rect x="210" y="402.1" width="1" height="2" fill="#000"/>
<rect x="212" y="397.9" width="1" height="2" fill="#000"/>
<rect x="213" y="389.0" width="1.5" height="16.0" fill="#000"/>
<rect x="212" y="397.9" width="1" height="2" fill="#000"/>
<rect x="214" y="395.8" width="1" height="2" fill="#000"/>
<rect x="215" y="393.2" width="1.5" height="10.4" fill="#000"/>
<rect x="214" y="395.8" width="1" height="2" fill="#000"/>
<rect x="216" y="402.1" width="1" height="2" fill="#000"/>
<rect x="217" y="399.3" width="1.5" height="17.7" fill="#000"/>
<rect x="216" y="402.1" width="1" height="2" fill="#000"/>
<rect x="218" y="409.7" width="1" height="2" fill="#000"/>
<rect x="219" y="399.5" width="1.5" height="12.0" fill="#000"/>
<rect x="218" y="409.7" width="1" height="2" fill="#000"/>
<rect x="220" y="401.0" width="1" height="2" fill="#000"/>
<rect x="221" y="395.6" width="1.5" height="8.9" fill="#000"/>
<rect x="220" y="401.0" width="1" height="2" fill="#000"/>
<rect x="222" y="397.6" width="1" height="2" fill="#000"/>
<rect x="223" y="392.5" width="1.5" height="7.6" fill="#000"/>
<rect x="222" y="397.6" width="1" height="2" fill="#000"/>
<rect x="224" y="392.5" width="1" height="2" fill="#000"/>
<rect x="225" y="387.0" width="1.5" height="8.8" fill="#000"/>
<rect x="224" y="392.5" width="1" height="2" fill="#000"/>
<rect x="226" y="387.2" width="1" height="2" fill="#000"/>
<rect x="227" y="384.2" width="1.5" height="6.0" fill="#000"/>
<rect x="226" y="387.2" width="1" height="2" fill="#000"/>
<rect x="228" y="387.6" width="1" height="2" fill="#000"/>
<rect x="229" y="380.0" width="1.5" height="10.9" fill="#000"/>
<rect x="228" y="387.6" width="1" height="2" fill="#000"/>
<rect x="230" y="387.6" width="1" height="2" fill="#000"/>
<rect x="231" y="381.5" width="1.5" height="15.2" fill="#000"/>
<rect x="230" y="387.6" width="1" height="2" fill="#000"/>
<rect x="232" y="386.2" width="1" height="2" fill="#000"/>
<rect x="233" y="377.9" width="1.5" height="14.4" fill="#000"/>
<rect x="232" y="386.2" width="1" height="2" fill="#000"/>
<rect x="234" y="390.8" width="1" height="2" fill="#000"/>
<rect x="235" y="381.2" width="1.5" height="17.4" fill="#000"/>
<rect x="234" y="390.8" width="1" height="2" fill="#000"/>
<rect x="236" y="391.9" width="1" height="2" fill="#000"/>
<rect x="237" y="384.0" width="1.5" height="13.8" fill="#000"/>
<rect x="236" y="391.9" width="1" height="2" fill="#000"/>
<rect x="238" y="396.2" width="1" height="2" fill="#000"/>
<rect x="239" y="394.7" width="1.5" height="25.7" fill="#000"/>
<rect x="238" y="396.2" width="1" height="2" fill="#000"/>
<rect x="240" y="413.9" width="1" height="2" fill="#000"/>
<rect x="241" y="409.1" width="1.5" height="20.7" fill="#000"/>
<rect x="240" y="413.9" width="1" height="2" fill="#000"/>
<rect x="242" y="427.2" width="1" height="2" fill="#000"/>
<rect x="243" y="404.6" width="1.5" height="32.4" fill="#000"/>
<rect x="242" y="427.2" width="1" height="2" fill="#000"/>
<rect x="244" y="412.5" width="1" height="2" fill="#000"/>
<rect x="245" y="414.8" width="1.5" height="7.7" fill="#000"/>
<rect x="244" y="414.8" width="1" height="2" fill="#000"/>
<rect x="246" y="421.1" width="1" height="2" fill="#000"/>
<rect x="247" y="416.1" width="1.5" height="13.9" fill="#000"/>
<rect x="246" y="421.1" width="1" height="2" fill="#000"/>
<rect x="248" y="416.1" width="1" height="2" fill="#000"/>
<rect x="249" y="405.4" width="1.5" height="17.0" fill="#000"/>
<rect x="248" y="416.1" width="1" height="2" fill="#000"/>
<rect x="250" y="407.3" width="1" height="2" fill="#000"/>
<rect x="251" y="394.2" width="1.5" height="25.5" fill="#000"/>
<rect x="250" y="407.3" width="1" height="2" fill="#000"/>
<rect x="252" y="395.7" width="1" height="2" fill="#000"/>
<rect x="253" y="398.9" width="1.5" height="11.4" fill="#000"/>
<rect x="252" y="398.9" width="1" height="2" fill="#000"/>
<rect x="254" y="398.9" width="1" height="2" fill="#000"/>
<rect x="255" y="396.6" width="1.5" height="10.6" fill="#000"/>
<rect x="254" y="398.9" width="1" height="2" fill="#000"/>
<rect x="256" y="405.7" width="1" height="2" fill="#000"/>
<rect x="257" y="398.1" width="1.5" height="16.3" fill="#000"/>
<rect x="256" y="405.7" width="1" height="2" fill="#000"/>
<rect x="258" y="412.9" width="1" height="2" fill="#000"/>
<rect x="259" y="410.1" width="1.5" height="13.8" fill="#000"/>
<rect x="258" y="412.9" width="1" height="2" fill="#000"/>
<rect x="260" y="420.3" width="1" height="2" fill="#000"/>
<rect x="261" y="415.8" width="1.5" height="10.4" fill="#000"/>
<rect x="260" y="420.3" width="1" height="2" fill="#000"/>
<rect x="262" y="420.8" width="1" height="2" fill="#000"/>
<rect x="263" y="416.2" width="1.5" height="8.9" fill="#000"/>
<rect x="262" y="420.8" width="1" height="2" fill="#000"/>
<rect x="264" y="423.6" width="1" height="2" fill="#000"/>
<rect x="265" y="420.7" width="1.5" height="8.2" fill="#000"/>
<rect x="264" y="423.6" width="1" height="2" fill="#000"/>
<rect x="266" y="422.6" width="1" height="2" fill="#000"/>
<rect x="267" y="419.3" width="1.5" height="10.9" fill="#000"/>
<rect x="266" y="422.6" width="1" height="2" fill="#000"/>
<rect x="268" y="421.8" width="1" height="2" fill="#000"/>
<rect x="269" y="418.3" width="1.5" height="14.3" fill="#000"/>
<rect x="268" y="421.8" width="1" height="2" fill="#000"/>
<rect x="270" y="427.3" width="1" height="2" fill="#000"/>
<rect x="271" y="417.0" width="1.5" height="15.3" fill="#000"/>
<rect x="270" y="427.3" width="1" height="2" fill="#000"/>
<rect x="272" y="423.0" width="1" height="2" fill="#000"/>
<rect x="273" y="412.8" width="1.5" height="24.3" fill="#000"/>
<rect x="272" y="423.0" width="1" height="2" fill="#000"/>
<rect x="274" y="422.0" width="1" height="2" fill="#000"/>
<rect x="275" y="420.8" width="1.5" height="13.7" fill="#000"/>
<rect x="274" y="422.0" width="1" height="2" fill="#000"/>
<rect x="276" y="430.7" width="1" height="2" fill="#000"/>
<rect x="277" y="432.1" width="1.5" height="8.1" fill="#000"/>
<rect x="276" y="432.1" width="1" height="2" fill="#000"/>
<rect x="278" y="438.7" width="1" height="2" fill="#000"/>
<rect x="279" y="433.0" width="1.5" height="14.6" fill="#000"/>
<rect x="278" y="438.7" width="1" height="2" fill="#000"/>
<rect x="280" y="437.6" width="1" height="2" fill="#000"/>
<rect x="281" y="436.0" width="1.5" height="10.7" fill="#000"/>
<rect x="280" y="437.6" width="1" height="2" fill="#000"/>
<rect x="282" y="436.0" width="1" height="2" fill="#000"/>
<rect x="283" y="430.9" width="1.5" height="14.1" fill="#000"/>
<rect x="282" y="436.0" width="1" height="2" fill="#000"/>
<rect x="284" y="443.4" width="1" height="2" fill="#000"/>
<rect x="285" y="438.0" width="1.5" height="23.3" fill="#000"/>
<rect x="284" y="443.4" width="1" height="2" fill="#000"/>
<rect x="286" y="459.8" width="1" height="2" fill="#000"/>
<rect x="287" y="446.6" width="1.5" height="26.6" fill="#000"/>
<rect x="286" y="459.8" width="1" height="2" fill="#000"/>
<rect x="288" y="458.5" width="1" height="2" fill="#000"/>
<rect x="289" y="447.0" width="1.5" height="17.0" fill="#000"/>
<rect x="288" y="458.5" width="1" height="2" fill="#000"/>
<rect x="290" y="454.3" width="1" height="2" fill="#000"/>
<rect x="291" y="444.1" width="1.5" height="28.9" fill="#000"/>
<rect x="290" y="454.3" width="1" height="2" fill="#000"/>
<rect x="292" y="444.1" width="1" height="2" fill="#000"/>
<rect x="293" y="438.3" width="1.5" height="20.4" fill="#000"/>
<rect x="292" y="444.1" width="1" height="2" fill="#000"/>
<rect x="294" y="438.3" width="1" height="2" fill="#000"/>
<rect x="295" y="432.4" width="1.5" height="13.4" fill="#000"/>
<rect x="294" y="438.3" width="1" height="2" fill="#000"/>
<rect x="296" y="432.4" width="1" height="2" fill="#000"/>
<rect x="297" y="423.5" width="1.5" height="16.8" fill="#000"/>
<rect x="296" y="432.4" width="1" height="2" fill="#000"/>
<rect x="298" y="428.2" width="1" height="2" fill="#000"/>
<rect x="299" y="425.6" width="1.5" height="9.7" fill="#000"/>
<rect x="298" y="428.2" width="1" height="2" fill="#000"/>
<rect x="300" y="427.0" width="1" height="2" fill="#000"/>
<rect x="301" y="416.7" width="1.5" height="17.1" fill="#000"/>
<rect x="300" y="427.0" width="1" height="2" fill="#000"/>
<rect x="302" y="428.9" width="1" height="2" fill="#000"/>
<rect x="303" y="421.7" width="1.5" height="11.9" fill="#000"/>
<rect x="302" y="428.9" width="1" height="2" fill="#000"/>
<rect x="304" y="421.7" width="1" height="2" fill="#000"/>
<rect x="305" y="418.2" width="1.5" height="9.6" fill="#000"/>
<rect x="304" y="421.7" width="1" height="2" fill="#000"/>
<rect x="306" y="420.6" width="1" height="2" fill="#000"/>
<rect x="307" y="415.8" width="1.5" height="7.4" fill="#000"/>
<rect x="306" y="420.6" width="1" height="2" fill="#000"/>
<rect x="308" y="421.8" width="1" height="2" fill="#000"/>
<rect x="309" y="420.6" width="1.5" height="4.3" fill="#000"/>
<rect x="308" y="421.8" width="1" height="2" fill="#000"/>
<rect x="310" y="423.3" width="1" height="2" fill="#000"/>
<rect x="311" y="417.4" width="1.5" height="12.7" fill="#000"/>
<rect x="310" y="423.3" width="1" height="2" fill="#000"/>
<rect x="312" y="424.8" width="1" height="2" fill="#000"/>
<rect x="313" y="414.3" width="1.5" height="15.4" fill="#000"/>
<rect x="312" y="424.8" width="1" height="2" fill="#000"/>
<rect x="314" y="414.3" width="1" height="2" fill="#000"/>
<rect x="315" y="398.6" width="1.5" height="31.2" fill="#000"/>
<rect x="314" y="414.3" width="1" height="2" fill="#000"/>
<rect x="316" y="411.8" width="1" height="2" fill="#000"/>
<rect x="317" y="401.7" width="1.5" height="7.4" fill="#000"/>
<rect x="316" y="408.2" width="1" height="2" fill="#000"/>
<rect x="318" y="405.8" width="1" height="2" fill="#000"/>
<rect x="319" y="400.9" width="1.5" height="6.6" fill="#000"/>
<rect x="318" y="405.8" width="1" height="2" fill="#000"/>
<rect x="320" y="402.8" width="1" height="2" fill="#000"/>
<rect x="321" y="400.5" width="1.5" height="9.9" fill="#000"/>
<rect x="320" y="402.8" width="1" height="2" fill="#000"/>
<rect x="322" y="406.3" width="1" height="2" fill="#000"/>
<rect x="323" y="399.0" width="1.5" height="15.3" fill="#000"/>
<rect x="322" y="406.3" width="1" height="2" fill="#000"/>
<rect x="324" y="402.2" width="1" height="2" fill="#000"/>
<rect x="325" y="396.2" width="1.5" height="12.9" fill="#000"/>
<rect x="324" y="402.2" width="1" height="2" fill="#000"/>
<rect x="326" y="396.2" width="1" height="2" fill="#000"/>
<rect x="327" y="390.2" width="1.5" height="9.2" fill="#000"/>
<rect x="326" y="396.2" width="1" height="2" fill="#000"/>
<rect x="328" y="390.2" width="1" height="2" fill="#000"/>
<rect x="329" y="384.0" width="1.5" height="9.1" fill="#000"/>
<rect x="328" y="390.2" width="1" height="2" fill="#000"/>
<rect x="330" y="384.0" width="1" height="2" fill="#000"/>
<rect x="331" y="376.5" width="1.5" height="16.6" fill="#000"/>
<rect x="330" y="384.0" width="1" height="2" fill="#000"/>
<rect x="332" y="383.2" width="1" height="2" fill="#000"/>
<rect x="333" y="379.1" width="1.5" height="7.7" fill="#000"/>
<rect x="332" y="383.2" width="1" height="2" fill="#000"/>
<rect x="334" y="380.9" width="1" height="2" fill="#000"/>
<rect x="335" y="377.0" width="1.5" height="9.6" fill="#000"/>
<rect x="334" y="380.9" width="1" height="2" fill="#000"/>
<rect x="336" y="378.6" width="1" height="2" fill="#000"/>
<rect x="337" y="377.0" width="1.5" height="11.3" fill="#000"/>
<rect x="336" y="378.6" width="1" height="2" fill="#000"/>
<rect x="338" y="383.5" width="1" height="2" fill="#000"/>
<rect x="339" y="374.5" width="1.5" height="12.6" fill="#000"/>
<rect x="338" y="383.5" width="1" height="2" fill="#000"/>
<rect x="340" y="384.7" width="1" height="2" fill="#000"/>
<rect x="341" y="372.3" width="1.5" height="20.2" fill="#000"/>
<rect x="340" y="384.7" width="1" height="2" fill="#000"/>
<rect x="342" y="372.3" width="1" height="2" fill="#000"/>
<rect x="343" y="370.6" width="1.5" height="10.0" fill="#000"/>
<rect x="342" y="372.3" width="1" height="2" fill="#000"/>
<rect x="344" y="370.9" width="1" height="2" fill="#000"/>
<rect x="345" y="363.5" width="1.5" height="11.4" fill="#000"/>
<rect x="344" y="370.9" width="1" height="2" fill="#000"/>
<rect x="346" y="373.4" width="1" height="2" fill="#000"/>
<rect x="347" y="368.2" width="1.5" height="8.2" fill="#000"/>
<rect x="346" y="373.4" width="1" height="2" fill="#000"/>
<rect x="348" y="371.6" width="1" height="2" fill="#000"/>
<rect x="349" y="370.7" width="1.5" height="6.8" fill="#000"/>
<rect x="348" y="371.6" width="1" height="2" fill="#000"/>
<rect x="350" y="376.0" width="1" height="2" fill="#000"/>
<rect x="351" y="372.8" width="1.5" height="11.1" fill="#000"/>
<rect x="350" y="376.0" width="1" height="2" fill="#000"/>
<rect x="352" y="376.4" width="1" height="2" fill="#000"/>
<rect x="353" y="372.6" width="1.5" height="10.0" fill="#000"/>
<rect x="352" y="376.4" width="1" height="2" fill="#000"/>
<rect x="354" y="380.0" width="1" height="2" fill="#000"/>
<rect x="355" y="373.5" width="1.5" height="10.7" fill="#000"/>
<rect x="354" y="380.0" width="1" height="2" fill="#000"/>
<rect x="356" y="381.3" width="1" height="2" fill="#000"/>
<rect x="357" y="378.2" width="1.5" height="7.6" fill="#000"/>
<rect x="356" y="381.3" width="1" height="2" fill="#000"/>
<rect x="358" y="382.3" width="1" height="2" fill="#000"/>
<rect x="359" y="379.5" width="1.5" height="9.8" fill="#000"/>
<rect x="358" y="382.3" width="1" height="2" fill="#000"/>
<rect x="360" y="387.8" width="1" height="2" fill="#000"/>
<rect x="361" y="380.3" width="1.5" height="19.9" fill="#000"/>
<rect x="360" y="387.8" width="1" height="2" fill="#000"/>
<rect x="362" y="398.8" width="1" height="2" fill="#000"/>
<rect x="363" y="391.5" width="1.5" height="22.9" fill="#000"/>
<rect x="362" y="398.8" width="1" height="2" fill="#000"/>
<rect x="364" y="412.4" width="1" height="2" fill="#000"/>
<rect x="365" y="399.8" width="1.5" height="18.5" fill="#000"/>
<rect x="364" y="412.4" width="1" height="2" fill="#000"/>
<rect x="366" y="416.3" width="1" height="2" fill="#000"/>
<rect x="367" y="399.8" width="1.5" height="16.1" fill="#000"/>
<rect x="366" y="414.9" width="1" height="2" fill="#000"/>
<rect x="368" y="404.3" width="1" height="2" fill="#000"/>
<rect x="369" y="400.8" width="1.5" height="11.7" fill="#000"/>
<rect x="368" y="404.3" width="1" height="2" fill="#000"/>
<rect x="370" y="406.4" width="1" height="2" fill="#000"/>
<rect x="371" y="403.9" width="1.5" height="6.7" fill="#000"/>
<rect x="370" y="406.4" width="1" height="2" fill="#000"/>
<rect x="372" y="409.2" width="1" height="2" fill="#000"/>
<rect x="373" y="404.9" width="1.5" height="12.2" fill="#000"/>
<rect x="372" y="409.2" width="1" height="2" fill="#000"/>
<rect x="374" y="408.9" width="1" height="2" fill="#000"/>
<rect x="375" y="399.4" width="1.5" height="19.6" fill="#000"/>
<rect x="374" y="408.9" width="1" height="2" fill="#000"/>
<rect x="376" y="406.8" width="1" height="2" fill="#000"/>
<rect x="377" y="399.2" width="1.5" height="11.2" fill="#000"/>
<rect x="376" y="406.8" width="1" height="2" fill="#000"/>
<rect x="378" y="399.2" width="1" height="2" fill="#000"/>
<rect x="379" y="394.5" width="1.5" height="7.7" fill="#000"/>
<rect x="378" y="399.2" width="1" height="2" fill="#000"/>
<rect x="380" y="395.5" width="1" height="2" fill="#000"/>
<rect x="381" y="386.1" width="1.5" height="10.1" fill="#000"/>
<rect x="380" y="395.2" width="1" height="2" fill="#000"/>
<rect x="382" y="390.7" width="1" height="2" fill="#000"/>
<rect x="383" y="376.6" width="1.5" height="25.7" fill="#000"/>
<rect x="382" y="390.7" width="1" height="2" fill="#000"/>
<rect x="384" y="381.2" width="1" height="2" fill="#000"/>
<rect x="385" y="374.1" width="1.5" height="10.7" fill="#000"/>
<rect x="384" y="381.2" width="1" height="2" fill="#000"/>
<rect x="386" y="375.2" width="1" height="2" fill="#000"/>
<rect x="387" y="370.2" width="1.5" height="9.4" fill="#000"/>
<rect x="386" y="375.2" width="1" height="2" fill="#000"/>
<rect x="388" y="374.0" width="1" height="2" fill="#000"/>
<rect x="389" y="369.1" width="1.5" height="8.2" fill="#000"/>
<rect x="388" y="374.0" width="1" height="2" fill="#000"/>
<rect x="390" y="369.1" width="1" height="2" fill="#000"/>
<rect x="391" y="366.5" width="1.5" height="8.7" fill="#000"/>
<rect x="390" y="369.1" width="1" height="2" fill="#000"/>
<rect x="392" y="367.0" width="1" height="2" fill="#000"/>
<rect x="393" y="362.7" width="1.5" height="9.5" fill="#000"/>
<rect x="392" y="367.0" width="1" height="2" fill="#000"/>
<rect x="394" y="367.5" width="1" height="2" fill="#000"/>
<rect x="395" y="363.0" width="1.5" height="6.3" fill="#000"/>
<rect x="394" y="367.5" width="1" height="2" fill="#000"/>
<rect x="396" y="363.0" width="1" height="2" fill="#000"/>
<rect x="397" y="359.1" width="1.5" height="6.9" fill="#000"/>
<rect x="396" y="363.0" width="1" height="2" fill="#000"/>
<rect x="398" y="359.1" width="1" height="2" fill="#000"/>
<rect x="399" y="353.3" width="1.5" height="8.2" fill="#000"/>
<rect x="398" y="359.1" width="1" height="2" fill="#000"/>
<rect x="400" y="356.4" width="1" height="2" fill="#000"/>
<rect x="401" y="350.8" width="1.5" height="11.4" fill="#000"/>
<rect x="400" y="356.4" width="1" height="2" fill="#000"/>
<rect x="402" y="352.4" width="1" height="2" fill="#000"/>
<rect x="403" y="348.3" width="1.5" height="10.4" fill="#000"/>
<rect x="402" y="352.4" width="1" height="2" fill="#000"/>
<rect x="404" y="357.2" width="1" height="2" fill="#000"/>
<rect x="405" y="350.4" width="1.5" height="7.5" fill="#000"/>
<rect x="404" y="356.9" width="1" height="2" fill="#000"/>
<rect x="406" y="354.9" width="1" height="2" fill="#000"/>
<rect x="407" y="349.6" width="1.5" height="8.6" fill="#000"/>
<rect x="406" y="354.9" width="1" height="2" fill="#000"/>
<rect x="408" y="351.9" width="1" height="2" fill="#000"/>
<rect x="409" y="347.3" width="1.5" height="8.1" fill="#000"/>
<rect x="408" y="351.9" width="1" height="2" fill="#000"/>
<rect x="410" y="347.6" width="1" height="2" fill="#000"/>
<rect x="411" y="343.3" width="1.5" height="11.1" fill="#000"/>
<rect x="410" y="347.6" width="1" height="2" fill="#000"/>
<rect x="412" y="343.6" width="1" height="2" fill="#000"/>
<rect x="413" y="339.8" width="1.5" height="7.4" fill="#000"/>
<rect x="412" y="343.6" width="1" height="2" fill="#000"/>
<rect x="414" y="339.8" width="1" height="2" fill="#000"/>
<rect x="415" y="336.9" width="1.5" height="4.9" fill="#000"/>
<rect x="414" y="339.8" width="1" height="2" fill="#000"/>
<rect x="416" y="340.2" width="1" height="2" fill="#000"/>
<rect x="417" y="329.7" width="1.5" height="21.0" fill="#000"/>
<rect x="416" y="340.2" width="1" height="2" fill="#000"/>
<rect x="418" y="336.4" width="1" height="2" fill="#000"/>
<rect x="419" y="330.4" width="1.5" height="10.2" fill="#000"/>
<rect x="418" y="336.4" width="1" height="2" fill="#000"/>
<rect x="420" y="336.6" width="1" height="2" fill="#000"/>
<rect x="421" y="328.9" width="1.5" height="5.2" fill="#000"/>
<rect x="420" y="333.1" width="1" height="2" fill="#000"/>
<rect x="422" y="332.6" width="1" height="2" fill="#000"/>
<rect x="423" y="329.1" width="1.5" height="4.3" fill="#000"/>
<rect x="422" y="332.5" width="1" height="2" fill="#000"/>
<rect x="424" y="332.0" width="1" height="2" fill="#000"/>
<rect x="425" y="329.9" width="1.5" height="6.8" fill="#000"/>
<rect x="424" y="332.0" width="1" height="2" fill="#000"/>
<rect x="426" y="334.8" width="1" height="2" fill="#000"/>
<rect x="427" y="330.2" width="1.5" height="5.5" fill="#000"/>
<rect x="426" y="334.6" width="1" height="2" fill="#000"/>
<rect x="428" y="332.8" width="1" height="2" fill="#000"/>
<rect x="429" y="325.6" width="1.5" height="8.4" fill="#000"/>
<rect x="428" y="332.8" width="1" height="2" fill="#000"/>
<rect x="430" y="325.6" width="1" height="2" fill="#000"/>
<rect x="431" y="317.5" width="1.5" height="11.1" fill="#000"/>
<rect x="430" y="325.6" width="1" height="2" fill="#000"/>
<rect x="432" y="317.5" width="1" height="2" fill="#000"/>
<rect x="433" y="313.5" width="1.5" height="7.6" fill="#000"/>
<rect x="432" y="317.5" width="1" height="2" fill="#000"/>
<rect x="434" y="313.5" width="1" height="2" fill="#000"/>
<rect x="435" y="309.7" width="1.5" height="6.8" fill="#000"/>
<rect x="434" y="313.5" width="1" height="2" fill="#000"/>
<rect x="436" y="309.7" width="1" height="2" fill="#000"/>
<rect x="437" y="303.5" width="1.5" height="9.4" fill="#000"/>
<rect x="436" y="309.7" width="1" height="2" fill="#000"/>
<rect x="438" y="311.5" width="1" height="2" fill="#000"/>
<rect x="439" y="309.6" width="1.5" height="14.3" fill="#000"/>
<rect x="438" y="311.5" width="1" height="2" fill="#000"/>
<rect x="440" y="314.5" width="1" height="2" fill="#000"/>
<rect x="441" y="308.1" width="1.5" height="16.2" fill="#000"/>
<rect x="440" y="314.5" width="1" height="2" fill="#000"/>
<rect x="442" y="319.2" width="1" height="2" fill="#000"/>
<rect x="443" y="312.9" width="1.5" height="8.1" fill="#000"/>
<rect x="442" y="319.2" width="1" height="2" fill="#000"/>
<rect x="444" y="319.5" width="1" height="2" fill="#000"/>
<rect x="445" y="313.4" width="1.5" height="10.4" fill="#000"/>
<rect x="444" y="319.5" width="1" height="2" fill="#000"/>
<rect x="446" y="315.4" width="1" height="2" fill="#000"/>
<rect x="447" y="308.2" width="1.5" height="13.5" fill="#000"/>
<rect x="446" y="315.4" width="1" height="2" fill="#000"/>
<rect x="448" y="308.6" width="1" height="2" fill="#000"/>
<rect x="449" y="304.7" width="1.5" height="9.0" fill="#000"/>
<rect x="448" y="308.6" width="1" height="2" fill="#000"/>
<rect x="450" y="312.2" width="1" height="2" fill="#000"/>
<rect x="451" y="309.8" width="1.5" height="5.2" fill="#000"/>
<rect x="450" y="312.2" width="1" height="2" fill="#000"/>
<rect x="452" y="313.5" width="1" height="2" fill="#000"/>
<rect x="453" y="312.0" width="1.5" height="13.6" fill="#000"/>
<rect x="452" y="313.5" width="1" height="2" fill="#000"/>
<rect x="454" y="316.5" width="1" height="2" fill="#000"/>
<rect x="455" y="311.4" width="1.5" height="12.2" fill="#000"/>
<rect x="454" y="316.5" width="1" height="2" fill="#000"/>
<rect x="456" y="312.5" width="1" height="2" fill="#000"/>
<rect x="457" y="303.5" width="1.5" height="16.4" fill="#000"/>
<rect x="456" y="312.5" width="1" height="2" fill="#000"/>
<rect x="458" y="303.5" width="1" height="2" fill="#000"/>
<rect x="459" y="296.4" width="1.5" height="9.6" fill="#000"/>
<rect x="458" y="303.5" width="1" height="2" fill="#000"/>
<rect x="460" y="303.6" width="1" height="2" fill="#000"/>
<rect x="461" y="290.9" width="1.5" height="18.0" fill="#000"/>
<rect x="460" y="303.6" width="1" height="2" fill="#000"/>
<rect x="462" y="292.8" width="1" height="2" fill="#000"/>
<rect x="463" y="289.0" width="1.5" height="8.4" fill="#000"/>
<rect x="462" y="292.8" width="1" height="2" fill="#000"/>
<rect x="464" y="295.9" width="1" height="2" fill="#000"/>
<rect x="465" y="293.2" width="1.5" height="9.4" fill="#000"/>
<rect x="464" y="295.9" width="1" height="2" fill="#000"/>
<rect x="466" y="296.8" width="1" height="2" fill="#000"/>
<rect x="467" y="289.5" width="1.5" height="13.4" fill="#000"/>
<rect x="466" y="296.8" width="1" height="2" fill="#000"/>
<rect x="468" y="298.1" width="1" height="2" fill="#000"/>
<rect x="469" y="288.9" width="1.5" height="16.3" fill="#000"/>
<rect x="468" y="298.1" width="1" height="2" fill="#000"/>
<rect x="470" y="298.4" width="1" height="2" fill="#000"/>
<rect x="471" y="290.9" width="1.5" height="23.7" fill="#000"/>
<rect x="470" y="298.4" width="1" height="2" fill="#000"/>
<rect x="472" y="308.1" width="1" height="2" fill="#000"/>
<rect x="473" y="289.4" width="1.5" height="20.5" fill="#000"/>
<rect x="472" y="308.1" width="1" height="2" fill="#000"/>
<rect x="474" y="300.7" width="1" height="2" fill="#000"/>
<rect x="475" y="287.2" width="1.5" height="22.2" fill="#000"/>
<rect x="474" y="300.7" width="1" height="2" fill="#000"/>
<rect x="476" y="293.4" width="1" height="2" fill="#000"/>
<rect x="477" y="289.2" width="1.5" height="5.7" fill="#000"/>
<rect x="476" y="293.4" width="1" height="2" fill="#000"/>
<rect x="478" y="292.3" width="1" height="2" fill="#000"/>
<rect x="479" y="282.8" width="1.5" height="11.8" fill="#000"/>
<rect x="478" y="292.3" width="1" height="2" fill="#000"/>
<rect x="480" y="282.8" width="1" height="2" fill="#000"/>
<rect x="481" y="277.9" width="1.5" height="10.3" fill="#000"/>
<rect x="480" y="282.8" width="1" height="2" fill="#000"/>
<rect x="482" y="277.9" width="1" height="2" fill="#000"/>
<rect x="483" y="271.5" width="1.5" height="9.4" fill="#000"/>
<rect x="482" y="277.9" width="1" height="2" fill="#000"/>
<rect x="484" y="271.5" width="1" height="2" fill="#000"/>
<rect x="485" y="259.9" width="1.5" height="20.4" fill="#000"/>
<rect x="484" y="271.5" width="1" height="2" fill="#000"/>
<rect x="486" y="259.9" width="1" height="2" fill="#000"/>
<rect x="487" y="252.5" width="1.5" height="25.3" fill="#000"/>
<rect x="486" y="259.9" width="1" height="2" fill="#000"/>
<rect x="488" y="276.3" width="1" height="2" fill="#000"/>
<rect x="489" y="266.8" width="1.5" height="18.7" fill="#000"/>
<rect x="488" y="276.3" width="1" height="2" fill="#000"/>
<rect x="490" y="283.6" width="1" height="2" fill="#000"/>
<rect x="491" y="284.2" width="1.5" height="10.3" fill="#000"/>
<rect x="490" y="284.2" width="1" height="2" fill="#000"/>
<rect x="492" y="290.7" width="1" height="2" fill="#000"/>
<rect x="493" y="281.8" width="1.5" height="17.2" fill="#000"/>
<rect x="492" y="290.7" width="1" height="2" fill="#000"/>
<rect x="494" y="290.4" width="1" height="2" fill="#000"/>
<rect x="495" y="281.2" width="1.5" height="19.0" fill="#000"/>
<rect x="494" y="290.4" width="1" height="2" fill="#000"/>
<rect x="496" y="289.6" width="1" height="2" fill="#000"/>
<rect x="497" y="281.3" width="1.5" height="15.2" fill="#000"/>
<rect x="496" y="289.6" width="1" height="2" fill="#000"/>
<rect x="498" y="295.0" width="1" height="2" fill="#000"/>
<rect x="499" y="291.5" width="1.5" height="13.1" fill="#000"/>
<rect x="498" y="295.0" width="1" height="2" fill="#000"/>
<rect x="500" y="303.2" width="1" height="2" fill="#000"/>
<rect x="501" y="295.7" width="1.5" height="13.2" fill="#000"/>
<rect x="500" y="303.2" width="1" height="2" fill="#000"/>
<rect x="502" y="307.4" width="1" height="2" fill="#000"/>
<rect x="503" y="301.7" width="1.5" height="13.3" fill="#000"/>
<rect x="502" y="307.4" width="1" height="2" fill="#000"/>
<rect x="504" y="301.7" width="1" height="2" fill="#000"/>
<rect x="505" y="293.9" width="1.5" height="13.0" fill="#000"/>
<rect x="504" y="301.7" width="1" height="2" fill="#000"/>
<rect x="506" y="293.9" width="1" height="2" fill="#000"/>
<rect x="507" y="284.2" width="1.5" height="20.2" fill="#000"/>
<rect x="506" y="293.9" width="1" height="2" fill="#000"/>
<rect x="508" y="286.7" width="1" height="2" fill="#000"/>
<rect x="509" y="279.9" width="1.5" height="11.2" fill="#000"/>
<rect x="508" y="286.7" width="1" height="2" fill="#000"/>
<rect x="510" y="280.1" width="1" height="2" fill="#000"/>
<rect x="511" y="278.5" width="1.5" height="8.4" fill="#000"/>
<rect x="510" y="280.1" width="1" height="2" fill="#000"/>
<rect x="512" y="280.0" width="1" height="2" fill="#000"/>
<rect x="513" y="274.1" width="1.5" height="10.3" fill="#000"/>
<rect x="512" y="280.0" width="1" height="2" fill="#000"/>
<rect x="514" y="279.4" width="1" height="2" fill="#000"/>
<rect x="515" y="270.1" width="1.5" height="17.1" fill="#000"/>
<rect x="514" y="279.4" width="1" height="2" fill="#000"/>
<rect x="516" y="274.8" width="1" height="2" fill="#000"/>
<rect x="517" y="267.8" width="1.5" height="17.9" fill="#000"/>
<rect x="516" y="274.8" width="1" height="2" fill="#000"/>
<rect x="518" y="267.8" width="1" height="2" fill="#000"/>
<rect x="519" y="262.1" width="1.5" height="23.5" fill="#000"/>
<rect x="518" y="267.8" width="1" height="2" fill="#000"/>
<rect x="520" y="275.6" width="1" height="2" fill="#000"/>
<rect x="521" y="274.9" width="1.5" height="13.6" fill="#000"/>
<rect x="520" y="275.6" width="1" height="2" fill="#000"/>
<rect x="522" y="277.8" width="1" height="2" fill="#000"/>
<rect x="523" y="271.2" width="1.5" height="11.4" fill="#000"/>
<rect x="522" y="277.8" width="1" height="2" fill="#000"/>
<rect x="524" y="272.5" width="1" height="2" fill="#000"/>
<rect x="525" y="269.2" width="1.5" height="9.1" fill="#000"/>
<rect x="524" y="272.5" width="1" height="2" fill="#000"/>
<rect x="526" y="276.7" width="1" height="2" fill="#000"/>
<rect x="527" y="267.2" width="1.5" height="12.1" fill="#000"/>
<rect x="526" y="276.7" width="1" height="2" fill="#000"/>
<rect x="528" y="273.2" width="1" height="2" fill="#000"/>
<rect x="529" y="270.1" width="1.5" height="8.4" fill="#000"/>
<rect x="528" y="273.2" width="1" height="2" fill="#000"/>
<rect x="530" y="272.5" width="1" height="2" fill="#000"/>
<rect x="531" y="266.7" width="1.5" height="10.5" fill="#000"/>
<rect x="530" y="272.5" width="1" height="2" fill="#000"/>
<rect x="532" y="269.9" width="1" height="2" fill="#000"/>
<rect x="533" y="262.8" width="1.5" height="11.4" fill="#000"/>
<rect x="532" y="269.9" width="1" height="2" fill="#000"/>
<rect x="534" y="262.8" width="1" height="2" fill="#000"/>
<rect x="535" y="255.0" width="1.5" height="9.1" fill="#000"/>
<rect x="534" y="262.8" width="1" height="2" fill="#000"/>
<rect x="536" y="255.0" width="1" height="2" fill="#000"/>
<rect x="537" y="244.9" width="1.5" height="13.0" fill="#000"/>
<rect x="536" y="255.0" width="1" height="2" fill="#000"/>
<rect x="538" y="247.9" width="1" height="2" fill="#000"/>
<rect x="539" y="237.7" width="1.5" height="15.1" fill="#000"/>
<rect x="538" y="247.9" width="1" height="2" fill="#000"/>
<rect x="540" y="242.1" width="1" height="2" fill="#000"/>
<rect x="541" y="237.3" width="1.5" height="10.4" fill="#000"/>
<rect x="540" y="242.1" width="1" height="2" fill="#000"/>
<rect x="542" y="241.1" width="1" height="2" fill="#000"/>
<rect x="543" y="235.8" width="1.5" height="9.1" fill="#000"/>
<rect x="542" y="241.1" width="1" height="2" fill="#000"/>
<rect x="544" y="235.8" width="1" height="2" fill="#000"/>
<rect x="545" y="227.0" width="1.5" height="15.2" fill="#000"/>
<rect x="544" y="235.8" width="1" height="2" fill="#000"/>
<rect x="546" y="239.0" width="1" height="2" fill="#000"/>
<rect x="547" y="229.0" width="1.5" height="7.9" fill="#000"/>
<rect x="546" y="235.9" width="1" height="2" fill="#000"/>
<rect x="548" y="232.3" width="1" height="2" fill="#000"/>
<rect x="549" y="222.0" width="1.5" height="20.0" fill="#000"/>
<rect x="548" y="232.3" width="1" height="2" fill="#000"/>
<rect x="550" y="240.5" width="1" height="2" fill="#000"/>
<rect x="551" y="228.8" width="1.5" height="17.9" fill="#000"/>
<rect x="550" y="240.5" width="1" height="2" fill="#000"/>
<rect x="552" y="239.6" width="1" height="2" fill="#000"/>
<rect x="553" y="243.0" width="1.5" height="14.5" fill="#000"/>
<rect x="552" y="243.0" width="1" height="2" fill="#000"/>
<rect x="554" y="256.1" width="1" height="2" fill="#000"/>
<rect x="555" y="254.6" width="1.5" height="15.2" fill="#000"/>
<rect x="554" y="256.1" width="1" height="2" fill="#000"/>
<rect x="556" y="268.3" width="1" height="2" fill="#000"/>
<rect x="557" y="266.8" width="1.5" height="29.1" fill="#000"/>
<rect x="556" y="268.3" width="1" height="2" fill="#000"/>
<rect x="558" y="288.9" width="1" height="2" fill="#000"/>
<rect x="559" y="271.5" width="1.5" height="34.2" fill="#000"/>
<rect x="558" y="288.9" width="1" height="2" fill="#000"/>
<rect x="560" y="294.9" width="1" height="2" fill="#000"/>
<rect x="561" y="289.6" width="1.5" height="16.5" fill="#000"/>
<rect x="560" y="294.9" width="1" height="2" fill="#000"/>
<rect x="562" y="301.9" width="1" height="2" fill="#000"/>
<rect x="563" y="297.6" width="1.5" height="15.4" fill="#000"/>
<rect x="562" y="301.9" width="1" height="2" fill="#000"/>
<rect x="564" y="297.6" width="1" height="2" fill="#000"/>
<rect x="565" y="290.3" width="1.5" height="11.3" fill="#000"/>
<rect x="564" y="297.6" width="1" height="2" fill="#000"/>
<rect x="566" y="290.3" width="1" height="2" fill="#000"/>
<rect x="567" y="278.8" width="1.5" height="13.6" fill="#000"/>
<rect x="566" y="290.3" width="1" height="2" fill="#000"/>
<rect x="568" y="280.6" width="1" height="2" fill="#000"/>
<rect x="569" y="267.0" width="1.5" height="21.3" fill="#000"/>
<rect x="568" y="280.6" width="1" height="2" fill="#000"/>
<rect x="570" y="270.2" width="1" height="2" fill="#000"/>
<rect x="571" y="266.2" width="1.5" height="12.4" fill="#000"/>
<rect x="570" y="270.2" width="1" height="2" fill="#000"/>
<rect x="572" y="277.1" width="1" height="2" fill="#000"/>
<rect x="573" y="266.2" width="1.5" height="25.2" fill="#000"/>
<rect x="572" y="277.1" width="1" height="2" fill="#000"/>
<rect x="574" y="280.5" width="1" height="2" fill="#000"/>
<rect x="575" y="269.9" width="1.5" height="27.3" fill="#000"/>
<rect x="574" y="280.5" width="1" height="2" fill="#000"/>
<rect x="576" y="282.5" width="1" height="2" fill="#000"/>
<rect x="577" y="270.9" width="1.5" height="16.4" fill="#000"/>
<rect x="576" y="282.5" width="1" height="2" fill="#000"/>
<rect x="578" y="270.9" width="1" height="2" fill="#000"/>
<rect x="579" y="265.3" width="1.5" height="15.2" fill="#000"/>
<rect x="578" y="270.9" width="1" height="2" fill="#000"/>
<rect x="580" y="279.0" width="1" height="2" fill="#000"/>
<rect x="581" y="268.4" width="1.5" height="14.9" fill="#000"/>
<rect x="580" y="279.0" width="1" height="2" fill="#000"/>
<rect x="582" y="281.4" width="1" height="2" fill="#000"/>
<rect x="583" y="268.9" width="1.5" height="11.0" fill="#000"/>
<rect x="582" y="279.0" width="1" height="2" fill="#000"/>
<rect x="584" y="272.5" width="1" height="2" fill="#000"/>
<rect x="585" y="266.7" width="1.5" height="13.0" fill="#000"/>
<rect x="584" y="272.5" width="1" height="2" fill="#000"/>
<rect x="586" y="274.1" width="1" height="2" fill="#000"/>
<rect x="587" y="266.1" width="1.5" height="9.7" fill="#000"/>
<rect x="586" y="274.1" width="1" height="2" fill="#000"/>
<rect x="588" y="268.6" width="1" height="2" fill="#000"/>
<rect x="589" y="265.5" width="1.5" height="11.7" fill="#000"/>
<rect x="588" y="268.6" width="1" height="2" fill="#000"/>
<rect x="590" y="268.9" width="1" height="2" fill="#000"/>
<rect x="591" y="264.1" width="1.5" height="12.7" fill="#000"/>
<rect x="590" y="268.9" width="1" height="2" fill="#000"/>
<rect x="592" y="275.3" width="1" height="2" fill="#000"/>
<rect x="593" y="255.3" width="1.5" height="26.9" fill="#000"/>
<rect x="592" y="275.3" width="1" height="2" fill="#000"/>
<rect x="594" y="266.8" width="1" height="2" fill="#000"/>
<rect x="595" y="255.7" width="1.5" height="22.9" fill="#000"/>
<rect x="594" y="266.8" width="1" height="2" fill="#000"/>
<rect x="596" y="268.5" width="1" height="2" fill="#000"/>
<rect x="597" y="258.9" width="1.5" height="14.5" fill="#000"/>
<rect x="596" y="268.5" width="1" height="2" fill="#000"/>
<rect x="598" y="258.9" width="1" height="2" fill="#000"/>
<rect x="599" y="252.9" width="1.5" height="18.5" fill="#000"/>
<rect x="598" y="258.9" width="1" height="2" fill="#000"/>
<rect x="600" y="252.9" width="1" height="2" fill="#000"/>
<rect x="601" y="247.1" width="1.5" height="8.7" fill="#000"/>
<rect x="600" y="252.9" width="1" height="2" fill="#000"/>
<rect x="602" y="247.1" width="1" height="2" fill="#000"/>
<rect x="603" y="238.2" width="1.5" height="13.9" fill="#000"/>
<rect x="602" y="247.1" width="1" height="2" fill="#000"/>
<rect x="604" y="241.2" width="1" height="2" fill="#000"/>
<rect x="605" y="231.9" width="1.5" height="11.9" fill="#000"/>
<rect x="604" y="241.2" width="1" height="2" fill="#000"/>
<rect x="606" y="236.4" width="1" height="2" fill="#000"/>
<rect x="607" y="227.9" width="1.5" height="19.5" fill="#000"/>
<rect x="606" y="236.4" width="1" height="2" fill="#000"/>
<rect x="608" y="240.6" width="1" height="2" fill="#000"/>
<rect x="609" y="226.0" width="1.5" height="9.4" fill="#000"/>
<rect x="608" y="234.4" width="1" height="2" fill="#000"/>
<rect x="610" y="226.0" width="1" height="2" fill="#000"/>
<rect x="611" y="221.3" width="1.5" height="12.2" fill="#000"/>
<rect x="610" y="226.0" width="1" height="2" fill="#000"/>
<rect x="612" y="226.1" width="1" height="2" fill="#000"/>
<rect x="613" y="218.8" width="1.5" height="13.0" fill="#000"/>
<rect x="612" y="226.1" width="1" height="2" fill="#000"/>
<rect x="614" y="222.7" width="1" height="2" fill="#000"/>
<rect x="615" y="224.5" width="1.5" height="6.7" fill="#000"/>
<rect x="614" y="224.5" width="1" height="2" fill="#000"/>
<rect x="616" y="229.8" width="1" height="2" fill="#000"/>
<rect x="617" y="226.8" width="1.5" height="15.2" fill="#000"/>
<rect x="616" y="229.8" width="1" height="2" fill="#000"/>
<rect x="618" y="238.5" width="1" height="2" fill="#000"/>
<rect x="619" y="226.8" width="1.5" height="15.9" fill="#000"/>
<rect x="618" y="238.5" width="1" height="2" fill="#000"/>
<rect x="620" y="226.8" width="1" height="2" fill="#000"/>
<rect x="621" y="219.9" width="1.5" height="9.9" fill="#000"/>
<rect x="620" y="226.8" width="1" height="2" fill="#000"/>
<rect x="622" y="219.9" width="1" height="2" fill="#000"/>
<rect x="623" y="212.2" width="1.5" height="9.6" fill="#000"/>
<rect x="622" y="219.9" width="1" height="2" fill="#000"/>
<rect x="624" y="212.7" width="1" height="2" fill="#000"/>
<rect x="625" y="206.0" width="1.5" height="11.6" fill="#000"/>
<rect x="624" y="212.7" width="1" height="2" fill="#000"/>
<rect x="626" y="215.0" width="1" height="2" fill="#000"/>
<rect x="627" y="206.0" width="1.5" height="13.6" fill="#000"/>
<rect x="626" y="215.0" width="1" height="2" fill="#000"/>
<rect x="628" y="218.1" width="1" height="2" fill="#000"/>
<rect x="629" y="211.1" width="1.5" height="11.8" fill="#000"/>
<rect x="628" y="218.1" width="1" height="2" fill="#000"/>
<rect x="630" y="221.4" width="1" height="2" fill="#000"/>
<rect x="631" y="221.1" width="1.5" height="5.0" fill="#000"/>
<rect x="630" y="221.4" width="1" height="2" fill="#000"/>
<rect x="632" y="222.7" width="1" height="2" fill="#000"/>
<rect x="633" y="218.3" width="1.5" height="11.7" fill="#000"/>
<rect x="632" y="222.7" width="1" height="2" fill="#000"/>
<rect x="634" y="228.5" width="1" height="2" fill="#000"/>
<rect x="635" y="222.1" width="1.5" height="14.0" fill="#000"/>
<rect x="634" y="228.5" width="1" height="2" fill="#000"/>
<rect x="636" y="234.6" width="1" height="2" fill="#000"/>
<rect x="637" y="228.9" width="1.5" height="12.7" fill="#000"/>
<rect x="636" y="234.6" width="1" height="2" fill="#000"/>
<rect x="638" y="238.0" width="1" height="2" fill="#000"/>
<rect x="639" y="238.3" width="1.5" height="10.2" fill="#000"/>
<rect x="638" y="238.3" width="1" height="2" fill="#000"/>
<rect x="640" y="247.0" width="1" height="2" fill="#000"/>
<rect x="641" y="245.1" width="1.5" height="17.4" fill="#000"/>
<rect x="640" y="247.0" width="1" height="2" fill="#000"/>
<rect x="642" y="260.9" width="1" height="2" fill="#000"/>
<rect x="643" y="253.1" width="1.5" height="23.4" fill="#000"/>
<rect x="642" y="260.9" width="1" height="2" fill="#000"/>
<rect x="644" y="270.1" width="1" height="2" fill="#000"/>
<rect x="645" y="258.3" width="1.5" height="18.8" fill="#000"/>
<rect x="644" y="270.1" width="1" height="2" fill="#000"/>
<rect x="646" y="259.7" width="1" height="2" fill="#000"/>
<rect x="647" y="255.8" width="1.5" height="22.7" fill="#000"/>
<rect x="646" y="259.7" width="1" height="2" fill="#000"/>
<rect x="648" y="267.3" width="1" height="2" fill="#000"/>
<rect x="649" y="257.1" width="1.5" height="26.0" fill="#000"/>
<rect x="648" y="267.3" width="1" height="2" fill="#000"/>
<rect x="650" y="257.1" width="1" height="2" fill="#000"/>
<rect x="651" y="253.8" width="1.5" height="14.9" fill="#000"/>
<rect x="650" y="257.1" width="1" height="2" fill="#000"/>
<rect x="652" y="266.3" width="1" height="2" fill="#000"/>
<rect x="653" y="243.9" width="1.5" height="39.7" fill="#000"/>
<rect x="652" y="266.3" width="1" height="2" fill="#000"/>
<rect x="654" y="253.7" width="1" height="2" fill="#000"/>
<rect x="655" y="239.8" width="1.5" height="31.5" fill="#000"/>
<rect x="654" y="253.7" width="1" height="2" fill="#000"/>
<rect x="656" y="239.8" width="1" height="2" fill="#000"/>
<rect x="657" y="231.4" width="1.5" height="19.2" fill="#000"/>
<rect x="656" y="239.8" width="1" height="2" fill="#000"/>
<rect x="658" y="237.7" width="1" height="2" fill="#000"/>
<rect x="659" y="231.3" width="1.5" height="15.6" fill="#000"/>
<rect x="658" y="237.7" width="1" height="2" fill="#000"/>
<rect x="660" y="241.8" width="1" height="2" fill="#000"/>
<rect x="661" y="233.6" width="1.5" height="9.4" fill="#000"/>
<rect x="660" y="241.8" width="1" height="2" fill="#000"/>
<rect x="662" y="233.6" width="1" height="2" fill="#000"/>
<rect x="663" y="225.6" width="1.5" height="14.4" fill="#000"/>
<rect x="662" y="233.6" width="1" height="2" fill="#000"/>
<rect x="664" y="227.6" width="1" height="2" fill="#000"/>
<rect x="665" y="220.4" width="1.5" height="11.0" fill="#000"/>
<rect x="664" y="227.6" width="1" height="2" fill="#000"/>
<rect x="666" y="220.7" width="1" height="2" fill="#000"/>
<rect x="667" y="216.1" width="1.5" height="14.3" fill="#000"/>
<rect x="666" y="220.7" width="1" height="2" fill="#000"/>
<rect x="668" y="216.1" width="1" height="2" fill="#000"/>
<rect x="669" y="212.8" width="1.5" height="9.7" fill="#000"/>
<rect x="668" y="216.1" width="1" height="2" fill="#000"/>
<rect x="670" y="212.8" width="1" height="2" fill="#000"/>
<rect x="671" y="207.2" width="1.5" height="10.0" fill="#000"/>
<rect x="670" y="212.8" width="1" height="2" fill="#000"/>
<rect x="672" y="211.9" width="1" height="2" fill="#000"/>
<rect x="673" y="206.3" width="1.5" height="12.3" fill="#000"/>
<rect x="672" y="211.9" width="1" height="2" fill="#000"/>
<rect x="674" y="207.0" width="1" height="2" fill="#000"/>
<rect x="675" y="201.8" width="1.5" height="9.5" fill="#000"/>
<rect x="674" y="207.0" width="1" height="2" fill="#000"/>
<rect x="676" y="208.8" width="1" height="2" fill="#000"/>
<rect x="677" y="202.5" width="1.5" height="9.0" fill="#000"/>
<rect x="676" y="208.8" width="1" height="2" fill="#000"/>
<rect x="678" y="202.5" width="1" height="2" fill="#000"/>
<rect x="679" y="195.9" width="1.5" height="10.3" fill="#000"/>
<rect x="678" y="202.5" width="1" height="2" fill="#000"/>
<rect x="680" y="202.3" width="1" height="2" fill="#000"/>
<rect x="681" y="198.2" width="1.5" height="9.8" fill="#000"/>
<rect x="680" y="202.3" width="1" height="2" fill="#000"/>
<rect x="682" y="204.9" width="1" height="2" fill="#000"/>
<rect x="683" y="197.2" width="1.5" height="12.4" fill="#000"/>
<rect x="682" y="204.9" width="1" height="2" fill="#000"/>
<rect x="684" y="207.5" width="1" height="2" fill="#000"/>
<rect x="685" y="198.6" width="1.5" height="15.8" fill="#000"/>
<rect x="684" y="207.5" width="1" height="2" fill="#000"/>
<rect x="686" y="205.2" width="1" height="2" fill="#000"/>
<rect x="687" y="197.4" width="1.5" height="15.9" fill="#000"/>
<rect x="686" y="205.2" width="1" height="2" fill="#000"/>
<rect x="688" y="197.4" width="1" height="2" fill="#000"/>
<rect x="689" y="188.5" width="1.5" height="13.7" fill="#000"/>
<rect x="688" y="197.4" width="1" height="2" fill="#000"/>
<rect x="690" y="198.5" width="1" height="2" fill="#000"/>
<rect x="691" y="195.3" width="1.5" height="18.2" fill="#000"/>
<rect x="690" y="198.5" width="1" height="2" fill="#000"/>
<rect x="692" y="205.3" width="1" height="2" fill="#000"/>
<rect x="693" y="199.8" width="1.5" height="15.1" fill="#000"/>
<rect x="692" y="205.3" width="1" height="2" fill="#000"/>
<rect x="694" y="203.7" width="1" height="2" fill="#000"/>
<rect x="695" y="199.7" width="1.5" height="17.6" fill="#000"/>
<rect x="694" y="203.7" width="1" height="2" fill="#000"/>
<rect x="696" y="208.6" width="1" height="2" fill="#000"/>
<rect x="697" y="200.9" width="1.5" height="17.8" fill="#000"/>
<rect x="696" y="208.6" width="1" height="2" fill="#000"/>
<rect x="698" y="217.3" width="1" height="2" fill="#000"/>
<rect x="699" y="205.0" width="1.5" height="27.4" fill="#000"/>
<rect x="698" y="217.3" width="1" height="2" fill="#000"/>
<rect x="700" y="230.9" width="1" height="2" fill="#000"/>
<rect x="701" y="228.1" width="1.5" height="30.3" fill="#000"/>
<rect x="700" y="230.9" width="1" height="2" fill="#000"/>
<rect x="702" y="256.9" width="1" height="2" fill="#000"/>
<rect x="703" y="235.5" width="1.5" height="97.3" fill="#000"/>
<rect x="702" y="256.9" width="1" height="2" fill="#000"/>
<rect x="704" y="331.3" width="1" height="2" fill="#000"/>
<rect x="705" y="304.6" width="1.5" height="96.4" fill="#000"/>
<rect x="704" y="331.3" width="1" height="2" fill="#000"/>
<rect x="706" y="368.0" width="1" height="2" fill="#000"/>
<rect x="707" y="353.0" width="1.5" height="38.0" fill="#000"/>
<rect x="706" y="368.0" width="1" height="2" fill="#000"/>
<rect x="708" y="389.6" width="1" height="2" fill="#000"/>
<rect x="709" y="378.2" width="1.5" height="60.3" fill="#000"/>
<rect x="708" y="389.6" width="1" height="2" fill="#000"/>
<rect x="710" y="398.5" width="1" height="2" fill="#000"/>
<rect x="711" y="367.6" width="1.5" height="44.7" fill="#000"/>
<rect x="710" y="398.5" width="1" height="2" fill="#000"/>
<rect x="712" y="375.7" width="1" height="2" fill="#000"/>
<rect x="713" y="363.1" width="1.5" height="37.1" fill="#000"/>
<rect x="712" y="375.7" width="1" height="2" fill="#000"/>
<rect x="714" y="363.1" width="1" height="2" fill="#000"/>
<rect x="715" y="344.2" width="1.5" height="25.9" fill="#000"/>
<rect x="714" y="363.1" width="1" height="2" fill="#000"/>
<rect x="716" y="345.9" width="1" height="2" fill="#000"/>
<rect x="717" y="330.8" width="1.5" height="26.7" fill="#000"/>
<rect x="716" y="345.9" width="1" height="2" fill="#000"/>
<rect x="718" y="343.5" width="1" height="2" fill="#000"/>
<rect x="719" y="329.7" width="1.5" height="29.1" fill="#000"/>
<rect x="718" y="343.5" width="1" height="2" fill="#000"/>
<rect x="720" y="351.0" width="1" height="2" fill="#000"/>
<rect x="721" y="334.5" width="1.5" height="25.6" fill="#000"/>
<rect x="720" y="351.0" width="1" height="2" fill="#000"/>
<rect x="722" y="358.7" width="1" height="2" fill="#000"/>
<rect x="723" y="354.6" width="1.5" height="13.8" fill="#000"/>
<rect x="722" y="358.7" width="1" height="2" fill="#000"/>
<rect x="724" y="354.6" width="1" height="2" fill="#000"/>
<rect x="725" y="333.9" width="1.5" height="29.9" fill="#000"/>
<rect x="724" y="354.6" width="1" height="2" fill="#000"/>
<rect x="726" y="333.9" width="1" height="2" fill="#000"/>
<rect x="727" y="316.5" width="1.5" height="20.3" fill="#000"/>
<rect x="726" y="333.9" width="1" height="2" fill="#000"/>
<rect x="728" y="316.9" width="1" height="2" fill="#000"/>
<rect x="729" y="298.4" width="1.5" height="36.0" fill="#000"/>
<rect x="728" y="316.9" width="1" height="2" fill="#000"/>
<rect x="730" y="302.9" width="1" height="2" fill="#000"/>
<rect x="731" y="296.6" width="1.5" height="13.6" fill="#000"/>
<rect x="730" y="302.9" width="1" height="2" fill="#000"/>
<rect x="732" y="296.6" width="1" height="2" fill="#000"/>
<rect x="733" y="287.3" width="1.5" height="16.8" fill="#000"/>
<rect x="732" y="296.6" width="1" height="2" fill="#000"/>
<rect x="734" y="287.3" width="1" height="2" fill="#000"/>
<rect x="735" y="274.5" width="1.5" height="21.4" fill="#000"/>
<rect x="734" y="287.3" width="1" height="2" fill="#000"/>
<rect x="736" y="274.5" width="1" height="2" fill="#000"/>
<rect x="737" y="267.4" width="1.5" height="17.2" fill="#000"/>
<rect x="736" y="274.5" width="1" height="2" fill="#000"/>
<rect x="738" y="271.7" width="1" height="2" fill="#000"/>
<rect x="739" y="262.0" width="1.5" height="20.4" fill="#000"/>
<rect x="738" y="271.7" width="1" height="2" fill="#000"/>
<rect x="740" y="262.0" width="1" height="2" fill="#000"/>
<rect x="741" y="249.9" width="1.5" height="15.1" fill="#000"/>
<rect x="740" y="262.0" width="1" height="2" fill="#000"/>
<rect x="742" y="253.2" width="1" height="2" fill="#000"/>
<rect x="743" y="248.9" width="1.5" height="14.9" fill="#000"/>
<rect x="742" y="253.2" width="1" height="2" fill="#000"/>
<rect x="744" y="252.0" width="1" height="2" fill="#000"/>
<rect x="745" y="248.6" width="1.5" height="7.3" fill="#000"/>
<rect x="744" y="252.0" width="1" height="2" fill="#000"/>
<rect x="746" y="248.6" width="1" height="2" fill="#000"/>
<rect x="747" y="243.1" width="1.5" height="8.5" fill="#000"/>
<rect x="746" y="248.6" width="1" height="2" fill="#000"/>
<rect x="748" y="243.1" width="1" height="2" fill="#000"/>
<rect x="749" y="238.2" width="1.5" height="12.1" fill="#000"/>
<rect x="748" y="243.1" width="1" height="2" fill="#000"/>
<rect x="750" y="238.2" width="1" height="2" fill="#000"/>
<rect x="751" y="225.0" width="1.5" height="22.0" fill="#000"/>
<rect x="750" y="238.2" width="1" height="2" fill="#000"/>
<rect x="752" y="234.0" width="1" height="2" fill="#000"/>
<rect x="753" y="222.0" width="1.5" height="22.5" fill="#000"/>
<rect x="752" y="234.0" width="1" height="2" fill="#000"/>
<rect x="754" y="243.0" width="1" height="2" fill="#000"/>
<rect x="755" y="237.3" width="1.5" height="15.5" fill="#000"/>
<rect x="754" y="243.0" width="1" height="2" fill="#000"/>
<rect x="756" y="237.3" width="1" height="2" fill="#000"/>
<rect x="757" y="230.5" width="1.5" height="11.9" fill="#000"/>
<rect x="756" y="237.3" width="1" height="2" fill="#000"/>
<rect x="758" y="238.7" width="1" height="2" fill="#000"/>
<path d="M16.8,544.0 C20.9,543.5 33.7,542.1 41.6,540.8 C49.5,539.5 56.5,537.5 64.0,536.0 C71.5,534.5 80.4,532.8 86.4,532.0 C92.4,531.2 92.7,532.0 100.0,531.0 C107.3,530.0 120.5,528.0 130.0,526.0 C139.4,524.0 149.4,520.9 156.7,518.7 C164.0,516.5 167.9,515.3 174.0,512.7 C180.1,510.1 189.1,505.1 193.3,503.2 C197.5,501.3 193.9,503.2 199.3,501.3 C204.8,499.4 219.2,494.4 226.0,492.0 C232.8,489.6 233.2,489.1 240.0,486.7 C246.8,484.2 257.8,480.4 266.7,477.3 C275.6,474.2 284.4,471.1 293.3,468.0 C302.2,464.9 311.1,462.0 320.0,458.7 C328.9,455.4 337.5,451.2 346.7,448.0 C355.9,444.8 367.0,442.0 375.3,439.3 C383.6,436.6 387.6,435.9 396.7,432.0 C405.8,428.1 420.4,420.4 430.0,416.0 C439.6,411.6 445.6,409.5 454.0,405.3 C462.4,401.1 471.4,395.4 480.7,390.7 C490.0,386.0 502.0,381.1 510.0,377.3 C518.0,373.5 519.4,371.4 528.6,368.0 C537.8,364.6 553.1,360.6 565.0,357.0 C576.9,353.4 589.2,350.2 600.0,346.7 C610.8,343.2 619.2,340.4 630.0,336.0 C640.8,331.6 656.3,324.5 665.0,320.0 C673.7,315.5 675.8,312.7 682.0,309.0 C688.2,305.3 694.5,300.6 702.0,298.0 C709.5,295.4 717.6,295.2 726.7,293.2 C735.8,291.1 751.5,286.9 756.5,285.7" fill="none" stroke="#9462c4" stroke-width="1.3" stroke-linejoin="round" />
<path d="M16.8,544.0 C20.7,543.3 32.7,541.9 40.0,540.0 C47.3,538.1 54.1,534.9 60.8,532.8 C67.5,530.7 73.9,528.9 80.0,527.2 C86.1,525.5 93.3,523.6 97.6,522.4 C101.9,521.2 99.0,523.8 105.6,520.0 C112.2,516.2 128.9,504.8 137.3,499.5 C145.7,494.2 149.8,492.2 156.0,488.3 C162.2,484.4 168.5,480.5 174.7,476.1 C180.9,471.7 187.1,466.3 193.3,462.1 C199.5,457.9 205.8,454.9 212.0,450.9 C218.2,446.9 226.0,441.0 230.7,437.9 C235.4,434.8 236.1,434.4 240.0,432.3 C243.9,430.2 248.2,428.0 254.3,425.3 C260.4,422.6 268.3,418.5 276.7,416.0 C285.1,413.5 295.4,411.9 304.7,410.4 C314.0,408.8 324.6,407.9 332.7,406.7 C340.8,405.5 347.0,403.7 353.2,403.0 C359.4,402.3 363.9,402.3 370.0,402.7 C376.1,403.1 383.3,405.5 390.0,405.3 C396.7,405.1 403.3,403.1 410.0,401.3 C416.7,399.5 422.7,397.6 430.0,394.7 C437.3,391.8 445.6,388.7 454.0,384.0 C462.4,379.3 470.5,374.1 480.7,366.7 C490.9,359.2 502.6,348.0 515.3,339.3 C528.0,330.6 546.5,320.8 556.7,314.7 C566.9,308.6 568.3,307.4 576.7,302.7 C585.1,298.0 597.8,291.8 607.3,286.7 C616.8,281.6 626.9,275.3 634.0,272.0 C641.1,268.7 643.3,269.0 650.0,266.7 C656.7,264.4 665.3,261.4 674.0,258.3 C682.7,255.2 695.4,249.1 702.0,248.1 C708.6,247.1 709.2,250.5 713.6,252.1 C718.0,253.7 723.5,256.1 728.5,257.7 C733.5,259.3 738.8,261.2 743.5,261.5 C748.2,261.8 754.3,259.9 756.5,259.6" fill="none" stroke="#3aa090" stroke-width="2.2" stroke-linejoin="round" />
<path d="M16.8,528.0 C19.3,527.3 27.3,524.8 32.0,524.0 C36.7,523.2 40.8,523.9 44.8,523.2 C48.8,522.5 51.5,520.9 56.0,520.0 C60.5,519.1 67.5,518.1 72.0,517.6 C76.5,517.1 79.7,517.9 83.2,516.8 C86.7,515.7 90.0,512.5 92.8,511.2 C95.6,509.9 97.2,510.0 100.0,508.8 C102.8,507.6 106.2,506.0 109.3,504.1 C112.4,502.2 114.0,500.9 118.7,497.6 C123.4,494.3 131.1,490.4 137.3,484.5 C143.5,478.6 149.8,469.2 156.0,462.1 C162.2,455.0 169.1,448.1 174.7,441.6 C180.3,435.1 185.2,428.5 189.6,422.9 C193.9,417.3 197.1,411.7 200.8,408.0 C204.5,404.3 207.0,402.8 212.0,400.5 C217.0,398.2 226.0,395.2 230.7,394.0 C235.4,392.8 236.4,393.1 240.0,393.0 C243.6,392.9 247.2,392.9 252.4,393.6 C257.6,394.3 264.5,394.5 271.0,397.3 C277.5,400.1 285.4,407.0 291.6,410.4 C297.8,413.8 301.2,416.3 308.4,417.9 C315.5,419.4 327.0,420.8 334.5,419.7 C342.0,418.6 348.6,412.9 353.2,411.3 C357.8,409.7 357.9,411.0 362.0,410.0 C366.1,409.0 372.2,408.5 378.0,405.3 C383.8,402.1 388.0,396.5 396.7,390.7 C405.4,384.9 420.2,376.7 430.0,370.7 C439.8,364.7 448.6,359.8 455.3,354.7 C462.0,349.6 465.8,344.8 470.0,340.0 C474.2,335.2 475.6,330.6 480.5,325.9 C485.4,321.2 493.1,316.4 499.7,312.0 C506.3,307.6 514.3,302.7 520.0,299.2 C525.7,295.7 528.1,294.9 534.0,291.0 C539.9,287.1 548.3,278.9 555.4,276.0 C562.5,273.1 569.6,274.6 576.7,273.9 C583.8,273.2 592.0,273.8 598.0,271.8 C604.0,269.8 606.6,265.3 612.4,262.1 C618.2,258.9 626.1,253.6 633.0,252.7 C639.9,251.8 646.7,258.1 653.5,256.5 C660.3,254.9 666.2,248.1 674.0,243.4 C681.8,238.7 694.1,228.8 700.3,228.2 C706.5,227.6 707.2,234.8 711.3,239.7 C715.4,244.6 720.4,253.1 724.8,257.7 C729.2,262.3 734.5,265.7 737.9,267.1 C741.3,268.5 742.2,266.4 745.3,266.1 C748.4,265.8 754.6,265.4 756.5,265.2" fill="none" stroke="#10107a" stroke-width="2.2" stroke-linejoin="round" />
<line x1="0" y1="547.7" x2="816.3" y2="298.4" stroke="#e01818" stroke-width="2.3"/>
<line x1="488" y1="262.2" x2="710" y2="185.5" stroke="#dd2233" stroke-width="2.2" stroke-dasharray="5,3"/>
<line x1="555.4" y1="313.4" x2="778" y2="229.7" stroke="#dd2233" stroke-width="2.2" stroke-dasharray="5,3"/>
<line x1="712" y1="319.5" x2="816" y2="319.5" stroke="#dd2233" stroke-width="2" stroke-dasharray="2,4"/>
<line x1="690" y1="414.6" x2="778" y2="414.6" stroke="#1a22cc" stroke-width="2.4"/>
<rect x="17" y="171" width="196" height="10" fill="#fff" fill-opacity="0.55"/>
<rect x="17" y="181" width="92" height="30" fill="#fff" fill-opacity="0.55"/>
<rect x="17" y="211" width="76" height="10" fill="#fff" fill-opacity="0.55"/>
<path d="M19 173 v6 M21 172 v7 M23 174 v6 M25 173 v6 M27 172 v7" stroke="#000" stroke-width="1.6"/>
<text x="29.5" y="180" font-size="10" font-weight="normal" fill="#222" text-anchor="start" textLength="182" lengthAdjust="spacingAndGlyphs" >Nifty 50 Index - India (Weekly) 11504.95</text>
<rect x="19" y="185" width="7" height="2" fill="#10107a"/>
<text x="29" y="190" font-size="10" font-weight="normal" fill="#10107a" text-anchor="start" textLength="73" lengthAdjust="spacingAndGlyphs" >MA(50) 10942.38</text>
<rect x="19" y="195" width="7" height="2" fill="#3aa090"/>
<text x="29" y="200" font-size="10" font-weight="normal" fill="#3aa090" text-anchor="start" textLength="78" lengthAdjust="spacingAndGlyphs" >MA(100) 11057.03</text>
<rect x="19" y="205" width="7" height="2" fill="#9a6cc0"/>
<text x="29" y="210" font-size="10" font-weight="normal" fill="#9a6cc0" text-anchor="start" textLength="78" lengthAdjust="spacingAndGlyphs" >MA(200) 10532.30</text>
<path d="M19.5 219 v-5 M22 219 v-7 M24.5 219 v-4 M27 219 v-6" stroke="#4d5670" stroke-width="2"/>
<text x="29" y="220" font-size="10" font-weight="normal" fill="#222" text-anchor="start" textLength="63" lengthAdjust="spacingAndGlyphs" >Volume undef</text>
<text x="883" y="567.4300000000001" font-size="10" font-weight="normal" fill="#222" text-anchor="end" textLength="22" lengthAdjust="spacingAndGlyphs" >5000</text>
<text x="883" y="542.167" font-size="10" font-weight="normal" fill="#222" text-anchor="end" textLength="22" lengthAdjust="spacingAndGlyphs" >5500</text>
<text x="883" y="516.904" font-size="10" font-weight="normal" fill="#222" text-anchor="end" textLength="22" lengthAdjust="spacingAndGlyphs" >6000</text>
<text x="883" y="491.641" font-size="10" font-weight="normal" fill="#222" text-anchor="end" textLength="22" lengthAdjust="spacingAndGlyphs" >6500</text>
<text x="883" y="466.37800000000004" font-size="10" font-weight="normal" fill="#222" text-anchor="end" textLength="22" lengthAdjust="spacingAndGlyphs" >7000</text>
<text x="883" y="441.115" font-size="10" font-weight="normal" fill="#222" text-anchor="end" textLength="22" lengthAdjust="spacingAndGlyphs" >7500</text>
<text x="883" y="415.85200000000003" font-size="10" font-weight="normal" fill="#222" text-anchor="end" textLength="22" lengthAdjust="spacingAndGlyphs" >8000</text>
<text x="883" y="390.589" font-size="10" font-weight="normal" fill="#222" text-anchor="end" textLength="22" lengthAdjust="spacingAndGlyphs" >8500</text>
<text x="883" y="365.326" font-size="10" font-weight="normal" fill="#222" text-anchor="end" textLength="22" lengthAdjust="spacingAndGlyphs" >9000</text>
<text x="883" y="340.063" font-size="10" font-weight="normal" fill="#222" text-anchor="end" textLength="22" lengthAdjust="spacingAndGlyphs" >9500</text>
<text x="883" y="314.8" font-size="10" font-weight="normal" fill="#222" text-anchor="end" textLength="27.5" lengthAdjust="spacingAndGlyphs" >10000</text>
<text x="883" y="289.53700000000003" font-size="10" font-weight="normal" fill="#222" text-anchor="end" textLength="27.5" lengthAdjust="spacingAndGlyphs" >10500</text>
<text x="883" y="264.274" font-size="10" font-weight="normal" fill="#222" text-anchor="end" textLength="27.5" lengthAdjust="spacingAndGlyphs" >11000</text>
<text x="883" y="239.01100000000002" font-size="10" font-weight="normal" fill="#222" text-anchor="end" textLength="27.5" lengthAdjust="spacingAndGlyphs" >11500</text>
<text x="883" y="213.748" font-size="10" font-weight="normal" fill="#222" text-anchor="end" textLength="27.5" lengthAdjust="spacingAndGlyphs" >12000</text>
<text x="883" y="188.485" font-size="10" font-weight="normal" fill="#222" text-anchor="end" textLength="27.5" lengthAdjust="spacingAndGlyphs" >12500</text>
<rect x="850" y="569" width="2" height="1" fill="#8c8c8c"/>
<rect x="850" y="564" width="3" height="1" fill="#8c8c8c"/>
<rect x="850" y="559" width="2" height="1" fill="#8c8c8c"/>
<rect x="850" y="554" width="2" height="1" fill="#8c8c8c"/>
<rect x="850" y="549" width="2" height="1" fill="#8c8c8c"/>
<rect x="850" y="544" width="2" height="1" fill="#8c8c8c"/>
<rect x="850" y="539" width="3" height="1" fill="#8c8c8c"/>
<rect x="850" y="534" width="2" height="1" fill="#8c8c8c"/>
<rect x="850" y="529" width="2" height="1" fill="#8c8c8c"/>
<rect x="850" y="524" width="2" height="1" fill="#8c8c8c"/>
<rect x="850" y="519" width="2" height="1" fill="#8c8c8c"/>
<rect x="850" y="514" width="3" height="1" fill="#8c8c8c"/>
<rect x="850" y="509" width="2" height="1" fill="#8c8c8c"/>
<rect x="850" y="504" width="2" height="1" fill="#8c8c8c"/>
<rect x="850" y="499" width="2" height="1" fill="#8c8c8c"/>
<rect x="850" y="494" width="2" height="1" fill="#8c8c8c"/>
<rect x="850" y="489" width="3" height="1" fill="#8c8c8c"/>
<rect x="850" y="484" width="2" height="1" fill="#8c8c8c"/>
<rect x="850" y="479" width="2" height="1" fill="#8c8c8c"/>
<rect x="850" y="473" width="2" height="1" fill="#8c8c8c"/>
<rect x="850" y="468" width="2" height="1" fill="#8c8c8c"/>
<rect x="850" y="463" width="3" height="1" fill="#8c8c8c"/>
<rect x="850" y="458" width="2" height="1" fill="#8c8c8c"/>
<rect x="850" y="453" width="2" height="1" fill="#8c8c8c"/>
<rect x="850" y="448" width="2" height="1" fill="#8c8c8c"/>
<rect x="850" y="443" width="2" height="1" fill="#8c8c8c"/>
<rect x="850" y="438" width="3" height="1" fill="#8c8c8c"/>
<rect x="850" y="433" width="2" height="1" fill="#8c8c8c"/>
<rect x="850" y="428" width="2" height="1" fill="#8c8c8c"/>
<rect x="850" y="423" width="2" height="1" fill="#8c8c8c"/>
<rect x="850" y="418" width="2" height="1" fill="#8c8c8c"/>
<rect x="850" y="413" width="3" height="1" fill="#8c8c8c"/>
<rect x="850" y="408" width="2" height="1" fill="#8c8c8c"/>
<rect x="850" y="403" width="2" height="1" fill="#8c8c8c"/>
<rect x="850" y="398" width="2" height="1" fill="#8c8c8c"/>
<rect x="850" y="393" width="2" height="1" fill="#8c8c8c"/>
<rect x="850" y="388" width="3" height="1" fill="#8c8c8c"/>
<rect x="850" y="383" width="2" height="1" fill="#8c8c8c"/>
<rect x="850" y="377" width="2" height="1" fill="#8c8c8c"/>
<rect x="850" y="372" width="2" height="1" fill="#8c8c8c"/>
<rect x="850" y="367" width="2" height="1" fill="#8c8c8c"/>
<rect x="850" y="362" width="3" height="1" fill="#8c8c8c"/>
<rect x="850" y="357" width="2" height="1" fill="#8c8c8c"/>
<rect x="850" y="352" width="2" height="1" fill="#8c8c8c"/>
<rect x="850" y="347" width="2" height="1" fill="#8c8c8c"/>
<rect x="850" y="342" width="2" height="1" fill="#8c8c8c"/>
<rect x="850" y="337" width="3" height="1" fill="#8c8c8c"/>
<rect x="850" y="332" width="2" height="1" fill="#8c8c8c"/>
<rect x="850" y="327" width="2" height="1" fill="#8c8c8c"/>
<rect x="850" y="322" width="2" height="1" fill="#8c8c8c"/>
<rect x="850" y="317" width="2" height="1" fill="#8c8c8c"/>
<rect x="850" y="312" width="3" height="1" fill="#8c8c8c"/>
<rect x="850" y="307" width="2" height="1" fill="#8c8c8c"/>
<rect x="850" y="302" width="2" height="1" fill="#8c8c8c"/>
<rect x="850" y="297" width="2" height="1" fill="#8c8c8c"/>
<rect x="850" y="292" width="2" height="1" fill="#8c8c8c"/>
<rect x="850" y="287" width="3" height="1" fill="#8c8c8c"/>
<rect x="850" y="281" width="2" height="1" fill="#8c8c8c"/>
<rect x="850" y="276" width="2" height="1" fill="#8c8c8c"/>
<rect x="850" y="271" width="2" height="1" fill="#8c8c8c"/>
<rect x="850" y="266" width="2" height="1" fill="#8c8c8c"/>
<rect x="850" y="261" width="3" height="1" fill="#8c8c8c"/>
<rect x="850" y="256" width="2" height="1" fill="#8c8c8c"/>
<rect x="850" y="251" width="2" height="1" fill="#8c8c8c"/>
<rect x="850" y="246" width="2" height="1" fill="#8c8c8c"/>
<rect x="850" y="241" width="2" height="1" fill="#8c8c8c"/>
<rect x="850" y="236" width="3" height="1" fill="#8c8c8c"/>
<rect x="850" y="231" width="2" height="1" fill="#8c8c8c"/>
<rect x="850" y="226" width="2" height="1" fill="#8c8c8c"/>
<rect x="850" y="221" width="2" height="1" fill="#8c8c8c"/>
<rect x="850" y="216" width="2" height="1" fill="#8c8c8c"/>
<rect x="850" y="211" width="3" height="1" fill="#8c8c8c"/>
<rect x="850" y="206" width="2" height="1" fill="#8c8c8c"/>
<rect x="850" y="201" width="2" height="1" fill="#8c8c8c"/>
<rect x="850" y="196" width="2" height="1" fill="#8c8c8c"/>
<rect x="850" y="191" width="2" height="1" fill="#8c8c8c"/>
<rect x="850" y="185" width="3" height="1" fill="#8c8c8c"/>
<rect x="850" y="180" width="2" height="1" fill="#8c8c8c"/>
<rect x="850" y="175" width="2" height="1" fill="#8c8c8c"/>
<rect x="16" y="577" width="834" height="14" fill="#fff"/>
<rect x="19" y="577" width="1" height="3" fill="#8c8c8c"/>
<rect x="19" y="589" width="1" height="2" fill="#8c8c8c"/>
<rect x="46" y="577" width="1" height="3" fill="#8c8c8c"/>
<rect x="46" y="589" width="1" height="2" fill="#8c8c8c"/>
<rect x="72" y="577" width="1" height="3" fill="#8c8c8c"/>
<rect x="72" y="589" width="1" height="2" fill="#8c8c8c"/>
<rect x="97" y="577" width="1" height="3" fill="#8c8c8c"/>
<rect x="97" y="589" width="1" height="2" fill="#8c8c8c"/>
<rect x="123" y="577" width="1" height="3" fill="#8c8c8c"/>
<rect x="123" y="589" width="1" height="2" fill="#8c8c8c"/>
<rect x="148" y="577" width="1" height="3" fill="#8c8c8c"/>
<rect x="148" y="589" width="1" height="2" fill="#8c8c8c"/>
<rect x="174" y="577" width="1" height="3" fill="#8c8c8c"/>
<rect x="174" y="589" width="1" height="2" fill="#8c8c8c"/>
<rect x="199" y="577" width="1" height="3" fill="#8c8c8c"/>
<rect x="199" y="589" width="1" height="2" fill="#8c8c8c"/>
<rect x="225" y="577" width="1" height="3" fill="#8c8c8c"/>
<rect x="225" y="589" width="1" height="2" fill="#8c8c8c"/>
<rect x="250" y="577" width="1" height="3" fill="#8c8c8c"/>
<rect x="250" y="589" width="1" height="2" fill="#8c8c8c"/>
<rect x="276" y="577" width="1" height="3" fill="#8c8c8c"/>
<rect x="276" y="589" width="1" height="2" fill="#8c8c8c"/>
<rect x="301" y="577" width="1" height="3" fill="#8c8c8c"/>
<rect x="301" y="589" width="1" height="2" fill="#8c8c8c"/>
<rect x="327" y="577" width="1" height="3" fill="#8c8c8c"/>
<rect x="327" y="589" width="1" height="2" fill="#8c8c8c"/>
<rect x="352" y="577" width="1" height="3" fill="#8c8c8c"/>
<rect x="352" y="589" width="1" height="2" fill="#8c8c8c"/>
<rect x="378" y="577" width="1" height="3" fill="#8c8c8c"/>
<rect x="378" y="589" width="1" height="2" fill="#8c8c8c"/>
<rect x="404" y="577" width="1" height="3" fill="#8c8c8c"/>
<rect x="404" y="589" width="1" height="2" fill="#8c8c8c"/>
<rect x="429" y="577" width="1" height="3" fill="#8c8c8c"/>
<rect x="429" y="589" width="1" height="2" fill="#8c8c8c"/>
<rect x="455" y="577" width="1" height="3" fill="#8c8c8c"/>
<rect x="455" y="589" width="1" height="2" fill="#8c8c8c"/>
<rect x="480" y="577" width="1" height="3" fill="#8c8c8c"/>
<rect x="480" y="589" width="1" height="2" fill="#8c8c8c"/>
<rect x="506" y="577" width="1" height="3" fill="#8c8c8c"/>
<rect x="506" y="589" width="1" height="2" fill="#8c8c8c"/>
<rect x="531" y="577" width="1" height="3" fill="#8c8c8c"/>
<rect x="531" y="589" width="1" height="2" fill="#8c8c8c"/>
<rect x="557" y="577" width="1" height="3" fill="#8c8c8c"/>
<rect x="557" y="589" width="1" height="2" fill="#8c8c8c"/>
<rect x="584" y="577" width="1" height="3" fill="#8c8c8c"/>
<rect x="584" y="589" width="1" height="2" fill="#8c8c8c"/>
<rect x="608" y="577" width="1" height="3" fill="#8c8c8c"/>
<rect x="608" y="589" width="1" height="2" fill="#8c8c8c"/>
<rect x="633" y="577" width="1" height="3" fill="#8c8c8c"/>
<rect x="633" y="589" width="1" height="2" fill="#8c8c8c"/>
<rect x="661" y="577" width="1" height="3" fill="#8c8c8c"/>
<rect x="661" y="589" width="1" height="2" fill="#8c8c8c"/>
<rect x="686" y="577" width="1" height="3" fill="#8c8c8c"/>
<rect x="686" y="589" width="1" height="2" fill="#8c8c8c"/>
<rect x="712" y="577" width="1" height="3" fill="#8c8c8c"/>
<rect x="712" y="589" width="1" height="2" fill="#8c8c8c"/>
<rect x="737" y="577" width="1" height="3" fill="#8c8c8c"/>
<rect x="737" y="589" width="1" height="2" fill="#8c8c8c"/>
<rect x="763" y="577" width="1" height="3" fill="#8c8c8c"/>
<rect x="763" y="589" width="1" height="2" fill="#8c8c8c"/>
<rect x="788" y="577" width="1" height="3" fill="#8c8c8c"/>
<rect x="788" y="589" width="1" height="2" fill="#8c8c8c"/>
<rect x="814" y="577" width="1" height="3" fill="#8c8c8c"/>
<rect x="814" y="589" width="1" height="2" fill="#8c8c8c"/>
<rect x="840" y="577" width="1" height="3" fill="#8c8c8c"/>
<rect x="840" y="589" width="1" height="2" fill="#8c8c8c"/>
<text x="19.5" y="588" font-size="10" font-weight="normal" fill="#222" text-anchor="middle" textLength="14" lengthAdjust="spacingAndGlyphs" >Jul</text>
<text x="46.5" y="588" font-size="10" font-weight="normal" fill="#222" text-anchor="middle" textLength="15.5" lengthAdjust="spacingAndGlyphs" >Oct</text>
<text x="72.5" y="588" font-size="11" font-weight="bold" fill="#1c2530" text-anchor="middle" textLength="12" lengthAdjust="spacingAndGlyphs" >14</text>
<text x="97.5" y="588" font-size="10" font-weight="normal" fill="#222" text-anchor="middle" textLength="15.5" lengthAdjust="spacingAndGlyphs" >Apr</text>
<text x="123.5" y="588" font-size="10" font-weight="normal" fill="#222" text-anchor="middle" textLength="14" lengthAdjust="spacingAndGlyphs" >Jul</text>
<text x="148.5" y="588" font-size="10" font-weight="normal" fill="#222" text-anchor="middle" textLength="15.5" lengthAdjust="spacingAndGlyphs" >Oct</text>
<text x="174.5" y="588" font-size="11" font-weight="bold" fill="#1c2530" text-anchor="middle" textLength="12" lengthAdjust="spacingAndGlyphs" >15</text>
<text x="199.5" y="588" font-size="10" font-weight="normal" fill="#222" text-anchor="middle" textLength="15.5" lengthAdjust="spacingAndGlyphs" >Apr</text>
<text x="225.5" y="588" font-size="10" font-weight="normal" fill="#222" text-anchor="middle" textLength="14" lengthAdjust="spacingAndGlyphs" >Jul</text>
<text x="250.5" y="588" font-size="10" font-weight="normal" fill="#222" text-anchor="middle" textLength="15.5" lengthAdjust="spacingAndGlyphs" >Oct</text>
<text x="276.5" y="588" font-size="11" font-weight="bold" fill="#1c2530" text-anchor="middle" textLength="12" lengthAdjust="spacingAndGlyphs" >16</text>
<text x="301.5" y="588" font-size="10" font-weight="normal" fill="#222" text-anchor="middle" textLength="15.5" lengthAdjust="spacingAndGlyphs" >Apr</text>
<text x="327.5" y="588" font-size="10" font-weight="normal" fill="#222" text-anchor="middle" textLength="14" lengthAdjust="spacingAndGlyphs" >Jul</text>
<text x="352.5" y="588" font-size="10" font-weight="normal" fill="#222" text-anchor="middle" textLength="15.5" lengthAdjust="spacingAndGlyphs" >Oct</text>
<text x="378.5" y="588" font-size="11" font-weight="bold" fill="#1c2530" text-anchor="middle" textLength="12" lengthAdjust="spacingAndGlyphs" >17</text>
<text x="404.5" y="588" font-size="10" font-weight="normal" fill="#222" text-anchor="middle" textLength="15.5" lengthAdjust="spacingAndGlyphs" >Apr</text>
<text x="429.5" y="588" font-size="10" font-weight="normal" fill="#222" text-anchor="middle" textLength="14" lengthAdjust="spacingAndGlyphs" >Jul</text>
<text x="455.5" y="588" font-size="10" font-weight="normal" fill="#222" text-anchor="middle" textLength="15.5" lengthAdjust="spacingAndGlyphs" >Oct</text>
<text x="480.5" y="588" font-size="11" font-weight="bold" fill="#1c2530" text-anchor="middle" textLength="12" lengthAdjust="spacingAndGlyphs" >18</text>
<text x="506.5" y="588" font-size="10" font-weight="normal" fill="#222" text-anchor="middle" textLength="15.5" lengthAdjust="spacingAndGlyphs" >Apr</text>
<text x="531.5" y="588" font-size="10" font-weight="normal" fill="#222" text-anchor="middle" textLength="14" lengthAdjust="spacingAndGlyphs" >Jul</text>
<text x="557.5" y="588" font-size="10" font-weight="normal" fill="#222" text-anchor="middle" textLength="15.5" lengthAdjust="spacingAndGlyphs" >Oct</text>
<text x="584.5" y="588" font-size="11" font-weight="bold" fill="#1c2530" text-anchor="middle" textLength="12" lengthAdjust="spacingAndGlyphs" >19</text>
<text x="608.5" y="588" font-size="10" font-weight="normal" fill="#222" text-anchor="middle" textLength="15.5" lengthAdjust="spacingAndGlyphs" >Apr</text>
<text x="633.5" y="588" font-size="10" font-weight="normal" fill="#222" text-anchor="middle" textLength="14" lengthAdjust="spacingAndGlyphs" >Jul</text>
<text x="661.5" y="588" font-size="10" font-weight="normal" fill="#222" text-anchor="middle" textLength="15.5" lengthAdjust="spacingAndGlyphs" >Oct</text>
<text x="686.5" y="588" font-size="11" font-weight="bold" fill="#1c2530" text-anchor="middle" textLength="12" lengthAdjust="spacingAndGlyphs" >20</text>
<text x="712.5" y="588" font-size="10" font-weight="normal" fill="#222" text-anchor="middle" textLength="15.5" lengthAdjust="spacingAndGlyphs" >Apr</text>
<text x="737.5" y="588" font-size="10" font-weight="normal" fill="#222" text-anchor="middle" textLength="14" lengthAdjust="spacingAndGlyphs" >Jul</text>
<text x="763.5" y="588" font-size="10" font-weight="normal" fill="#222" text-anchor="middle" textLength="15.5" lengthAdjust="spacingAndGlyphs" >Oct</text>
<text x="788.5" y="588" font-size="11" font-weight="bold" fill="#1c2530" text-anchor="middle" textLength="12" lengthAdjust="spacingAndGlyphs" >21</text>
<text x="814.5" y="588" font-size="10" font-weight="normal" fill="#222" text-anchor="middle" textLength="15.5" lengthAdjust="spacingAndGlyphs" >Apr</text>
<text x="840.5" y="588" font-size="10" font-weight="normal" fill="#222" text-anchor="middle" textLength="14" lengthAdjust="spacingAndGlyphs" >Jul</text>
<rect x="16" y="591" width="56" height="142" fill="#f0f0f0"/>
<rect x="72" y="591" width="102" height="142" fill="#e8e8ea"/>
<rect x="174" y="591" width="102" height="142" fill="#f0f0f0"/>
<rect x="276" y="591" width="102" height="142" fill="#e8e8ea"/>
<rect x="378" y="591" width="102" height="142" fill="#f0f0f0"/>
<rect x="480" y="591" width="104" height="142" fill="#e8e8ea"/>
<rect x="584" y="591" width="102" height="142" fill="#f0f0f0"/>
<rect x="686" y="591" width="102" height="142" fill="#e8e8ea"/>
<rect x="788" y="591" width="62" height="142" fill="#f0f0f0"/>
<rect x="19" y="591" width="1" height="142" fill="#cdd0d5"/>
<rect x="46" y="591" width="1" height="142" fill="#cdd0d5"/>
<rect x="72" y="591" width="1" height="142" fill="#cdd0d5"/>
<rect x="97" y="591" width="1" height="142" fill="#cdd0d5"/>
<rect x="123" y="591" width="1" height="142" fill="#cdd0d5"/>
<rect x="148" y="591" width="1" height="142" fill="#cdd0d5"/>
<rect x="174" y="591" width="1" height="142" fill="#cdd0d5"/>
<rect x="199" y="591" width="1" height="142" fill="#cdd0d5"/>
<rect x="225" y="591" width="1" height="142" fill="#cdd0d5"/>
<rect x="250" y="591" width="1" height="142" fill="#cdd0d5"/>
<rect x="276" y="591" width="1" height="142" fill="#cdd0d5"/>
<rect x="301" y="591" width="1" height="142" fill="#cdd0d5"/>
<rect x="327" y="591" width="1" height="142" fill="#cdd0d5"/>
<rect x="352" y="591" width="1" height="142" fill="#cdd0d5"/>
<rect x="378" y="591" width="1" height="142" fill="#cdd0d5"/>
<rect x="404" y="591" width="1" height="142" fill="#cdd0d5"/>
<rect x="429" y="591" width="1" height="142" fill="#cdd0d5"/>
<rect x="455" y="591" width="1" height="142" fill="#cdd0d5"/>
<rect x="480" y="591" width="1" height="142" fill="#cdd0d5"/>
<rect x="506" y="591" width="1" height="142" fill="#cdd0d5"/>
<rect x="531" y="591" width="1" height="142" fill="#cdd0d5"/>
<rect x="557" y="591" width="1" height="142" fill="#cdd0d5"/>
<rect x="584" y="591" width="1" height="142" fill="#cdd0d5"/>
<rect x="608" y="591" width="1" height="142" fill="#cdd0d5"/>
<rect x="633" y="591" width="1" height="142" fill="#cdd0d5"/>
<rect x="661" y="591" width="1" height="142" fill="#cdd0d5"/>
<rect x="686" y="591" width="1" height="142" fill="#cdd0d5"/>
<rect x="712" y="591" width="1" height="142" fill="#cdd0d5"/>
<rect x="737" y="591" width="1" height="142" fill="#cdd0d5"/>
<rect x="763" y="591" width="1" height="142" fill="#cdd0d5"/>
<rect x="788" y="591" width="1" height="142" fill="#cdd0d5"/>
<rect x="814" y="591" width="1" height="142" fill="#cdd0d5"/>
<rect x="840" y="591" width="1" height="142" fill="#cdd0d5"/>
<rect x="16" y="726" width="834" height="1" fill="#cdd0d5"/>
<rect x="16" y="713" width="834" height="1" fill="#cdd0d5"/>
<rect x="16" y="700" width="834" height="1" fill="#cdd0d5"/>
<rect x="16" y="687" width="834" height="1" fill="#cdd0d5"/>
<rect x="16" y="675" width="834" height="1" fill="#cdd0d5"/>
<rect x="16" y="662" width="834" height="1" fill="#cdd0d5"/>
<rect x="16" y="649" width="834" height="1" fill="#cdd0d5"/>
<rect x="16" y="636" width="834" height="1" fill="#cdd0d5"/>
<rect x="16" y="624" width="834" height="1" fill="#cdd0d5"/>
<rect x="16" y="611" width="834" height="1" fill="#cdd0d5"/>
<rect x="16" y="598" width="834" height="1" fill="#cdd0d5"/>
<clipPath id="c70"><rect x="16" y="591" width="834" height="45.819999999999936"/></clipPath>
<clipPath id="c30"><rect x="16" y="687.98" width="834" height="45.01999999999998"/></clipPath>
<polygon points="17,636.8199999999999 17.0,664.0 20.0,657.0 23.0,654.4 25.0,660.0 28.0,671.0 31.0,675.6 34.0,678.4 35.6,678.0 38.0,664.0 41.0,653.0 43.0,659.0 46.0,651.0 49.0,648.0 52.0,645.6 54.0,653.0 57.0,658.0 61.0,651.0 63.0,653.0 67.0,649.0 70.0,655.0 72.0,653.0 74.0,656.4 76.0,653.6 79.0,662.0 82.0,663.6 85.0,656.0 88.0,644.0 91.0,645.0 94.0,639.0 98.0,636.6 101.0,636.6 103.6,642.4 106.0,632.0 109.0,625.6 112.0,632.0 114.0,628.0 118.0,631.0 121.0,627.0 123.6,642.0 126.0,636.0 128.0,637.6 131.0,646.4 134.0,639.6 138.0,636.0 142.0,634.0 145.0,635.0 148.0,645.0 151.0,651.6 154.0,638.0 158.0,635.6 162.0,631.6 165.0,637.0 167.0,650.4 170.0,651.0 172.4,645.6 175.0,651.0 178.0,637.0 180.0,638.0 183.0,645.0 186.0,641.0 190.0,639.0 193.0,651.0 196.0,663.6 199.0,652.4 202.0,664.0 205.0,669.6 208.0,669.0 212.0,660.4 215.0,669.0 217.6,675.0 221.0,662.0 223.0,659.0 225.0,660.0 227.6,655.6 230.0,658.0 234.0,657.6 236.0,659.6 239.0,674.0 241.6,683.0 244.0,676.0 246.0,671.0 248.0,674.0 251.0,663.0 254.0,661.0 257.0,669.0 260.0,676.0 263.0,671.0 265.0,670.0 268.0,678.0 271.0,671.0 274.0,666.0 277.0,675.0 280.0,679.6 283.0,675.0 286.0,687.0 288.0,679.0 290.0,682.0 292.0,669.0 295.0,666.0 298.0,662.0 301.0,666.0 303.0,658.4 305.0,656.0 308.0,658.0 310.0,662.0 313.0,659.6 316.0,649.0 319.0,650.0 323.0,654.0 326.0,647.6 329.6,641.6 334.0,639.6 338.0,637.6 341.0,645.0 345.0,636.0 348.0,640.0 350.0,641.0 352.0,652.0 354.0,651.0 356.0,655.0 358.0,652.4 360.0,660.0 364.0,676.0 367.0,674.0 370.0,669.0 374.0,676.0 377.0,667.0 380.0,660.0 382.0,661.0 384.0,651.6 388.0,647.0 392.0,643.0 395.0,642.0 398.0,638.0 401.0,639.0 404.0,638.0 407.0,643.0 410.0,638.0 414.0,635.0 418.0,628.4 421.0,629.0 424.0,635.0 427.0,640.0 428.0,640.0 431.0,629.6 434.0,627.0 437.0,624.4 439.0,649.0 442.0,646.0 445.0,643.0 447.0,641.0 449.0,638.4 451.0,643.0 454.0,655.0 457.0,643.0 460.0,640.0 462.4,635.6 465.0,643.0 468.0,642.4 470.4,655.0 474.0,649.0 478.0,643.0 482.0,640.0 486.0,629.6 490.0,657.0 493.0,658.0 496.0,657.0 498.0,663.0 500.0,667.0 502.6,674.4 505.0,664.0 508.0,656.0 511.0,652.0 513.0,650.0 515.0,648.0 517.0,656.0 520.0,655.0 524.0,650.0 527.0,649.0 530.0,654.0 533.0,646.0 536.0,640.0 541.0,634.0 547.0,629.6 551.0,638.0 554.0,661.0 558.0,682.0 560.0,677.0 563.0,685.6 565.0,670.0 568.0,667.0 571.0,664.0 573.0,660.0 576.0,662.0 579.0,661.0 582.0,664.4 586.0,660.0 589.0,662.0 592.0,658.0 595.0,665.0 599.0,658.0 602.0,647.0 607.0,641.0 611.0,640.0 613.0,637.6 615.0,643.0 617.6,660.0 621.0,644.4 623.0,643.6 626.0,646.4 630.0,649.0 633.0,648.0 636.0,662.0 639.0,669.0 641.6,677.0 644.0,673.0 647.6,679.0 650.0,673.0 652.0,672.0 655.0,663.0 657.6,656.0 660.0,666.0 663.0,658.0 666.0,649.0 670.0,647.6 673.0,648.0 676.0,645.0 678.0,650.0 680.4,641.6 684.0,643.0 686.0,643.0 688.0,640.6 690.0,647.0 692.0,658.0 695.0,653.6 698.0,655.0 700.0,674.0 702.0,683.0 704.4,689.0 707.0,706.0 710.4,709.6 712.0,688.0 715.0,684.0 718.0,674.4 720.0,680.0 723.0,681.6 726.0,667.0 729.0,664.4 733.0,658.0 737.0,654.0 741.0,651.0 745.0,652.0 748.0,650.0 751.0,644.4 753.6,651.6 757.0,649.0 757,636.8199999999999" fill="#8a92a6" clip-path="url(#c70)"/>
<polygon points="17,687.98 17.0,664.0 20.0,657.0 23.0,654.4 25.0,660.0 28.0,671.0 31.0,675.6 34.0,678.4 35.6,678.0 38.0,664.0 41.0,653.0 43.0,659.0 46.0,651.0 49.0,648.0 52.0,645.6 54.0,653.0 57.0,658.0 61.0,651.0 63.0,653.0 67.0,649.0 70.0,655.0 72.0,653.0 74.0,656.4 76.0,653.6 79.0,662.0 82.0,663.6 85.0,656.0 88.0,644.0 91.0,645.0 94.0,639.0 98.0,636.6 101.0,636.6 103.6,642.4 106.0,632.0 109.0,625.6 112.0,632.0 114.0,628.0 118.0,631.0 121.0,627.0 123.6,642.0 126.0,636.0 128.0,637.6 131.0,646.4 134.0,639.6 138.0,636.0 142.0,634.0 145.0,635.0 148.0,645.0 151.0,651.6 154.0,638.0 158.0,635.6 162.0,631.6 165.0,637.0 167.0,650.4 170.0,651.0 172.4,645.6 175.0,651.0 178.0,637.0 180.0,638.0 183.0,645.0 186.0,641.0 190.0,639.0 193.0,651.0 196.0,663.6 199.0,652.4 202.0,664.0 205.0,669.6 208.0,669.0 212.0,660.4 215.0,669.0 217.6,675.0 221.0,662.0 223.0,659.0 225.0,660.0 227.6,655.6 230.0,658.0 234.0,657.6 236.0,659.6 239.0,674.0 241.6,683.0 244.0,676.0 246.0,671.0 248.0,674.0 251.0,663.0 254.0,661.0 257.0,669.0 260.0,676.0 263.0,671.0 265.0,670.0 268.0,678.0 271.0,671.0 274.0,666.0 277.0,675.0 280.0,679.6 283.0,675.0 286.0,687.0 288.0,679.0 290.0,682.0 292.0,669.0 295.0,666.0 298.0,662.0 301.0,666.0 303.0,658.4 305.0,656.0 308.0,658.0 310.0,662.0 313.0,659.6 316.0,649.0 319.0,650.0 323.0,654.0 326.0,647.6 329.6,641.6 334.0,639.6 338.0,637.6 341.0,645.0 345.0,636.0 348.0,640.0 350.0,641.0 352.0,652.0 354.0,651.0 356.0,655.0 358.0,652.4 360.0,660.0 364.0,676.0 367.0,674.0 370.0,669.0 374.0,676.0 377.0,667.0 380.0,660.0 382.0,661.0 384.0,651.6 388.0,647.0 392.0,643.0 395.0,642.0 398.0,638.0 401.0,639.0 404.0,638.0 407.0,643.0 410.0,638.0 414.0,635.0 418.0,628.4 421.0,629.0 424.0,635.0 427.0,640.0 428.0,640.0 431.0,629.6 434.0,627.0 437.0,624.4 439.0,649.0 442.0,646.0 445.0,643.0 447.0,641.0 449.0,638.4 451.0,643.0 454.0,655.0 457.0,643.0 460.0,640.0 462.4,635.6 465.0,643.0 468.0,642.4 470.4,655.0 474.0,649.0 478.0,643.0 482.0,640.0 486.0,629.6 490.0,657.0 493.0,658.0 496.0,657.0 498.0,663.0 500.0,667.0 502.6,674.4 505.0,664.0 508.0,656.0 511.0,652.0 513.0,650.0 515.0,648.0 517.0,656.0 520.0,655.0 524.0,650.0 527.0,649.0 530.0,654.0 533.0,646.0 536.0,640.0 541.0,634.0 547.0,629.6 551.0,638.0 554.0,661.0 558.0,682.0 560.0,677.0 563.0,685.6 565.0,670.0 568.0,667.0 571.0,664.0 573.0,660.0 576.0,662.0 579.0,661.0 582.0,664.4 586.0,660.0 589.0,662.0 592.0,658.0 595.0,665.0 599.0,658.0 602.0,647.0 607.0,641.0 611.0,640.0 613.0,637.6 615.0,643.0 617.6,660.0 621.0,644.4 623.0,643.6 626.0,646.4 630.0,649.0 633.0,648.0 636.0,662.0 639.0,669.0 641.6,677.0 644.0,673.0 647.6,679.0 650.0,673.0 652.0,672.0 655.0,663.0 657.6,656.0 660.0,666.0 663.0,658.0 666.0,649.0 670.0,647.6 673.0,648.0 676.0,645.0 678.0,650.0 680.4,641.6 684.0,643.0 686.0,643.0 688.0,640.6 690.0,647.0 692.0,658.0 695.0,653.6 698.0,655.0 700.0,674.0 702.0,683.0 704.4,689.0 707.0,706.0 710.4,709.6 712.0,688.0 715.0,684.0 718.0,674.4 720.0,680.0 723.0,681.6 726.0,667.0 729.0,664.4 733.0,658.0 737.0,654.0 741.0,651.0 745.0,652.0 748.0,650.0 751.0,644.4 753.6,651.6 757.0,649.0 757,687.98" fill="#8a92a6" clip-path="url(#c30)"/>
<rect x="16" y="636" width="834" height="1" fill="#7d7d7d"/>
<rect x="16" y="687" width="834" height="1" fill="#7d7d7d"/>
<line x1="16" y1="662.5" x2="850" y2="662.5" stroke="#8a8a8a" stroke-width="1" stroke-dasharray="8,3,2,3"/>
<polyline points="17.0,664.0 20.0,657.0 23.0,654.4 25.0,660.0 28.0,671.0 31.0,675.6 34.0,678.4 35.6,678.0 38.0,664.0 41.0,653.0 43.0,659.0 46.0,651.0 49.0,648.0 52.0,645.6 54.0,653.0 57.0,658.0 61.0,651.0 63.0,653.0 67.0,649.0 70.0,655.0 72.0,653.0 74.0,656.4 76.0,653.6 79.0,662.0 82.0,663.6 85.0,656.0 88.0,644.0 91.0,645.0 94.0,639.0 98.0,636.6 101.0,636.6 103.6,642.4 106.0,632.0 109.0,625.6 112.0,632.0 114.0,628.0 118.0,631.0 121.0,627.0 123.6,642.0 126.0,636.0 128.0,637.6 131.0,646.4 134.0,639.6 138.0,636.0 142.0,634.0 145.0,635.0 148.0,645.0 151.0,651.6 154.0,638.0 158.0,635.6 162.0,631.6 165.0,637.0 167.0,650.4 170.0,651.0 172.4,645.6 175.0,651.0 178.0,637.0 180.0,638.0 183.0,645.0 186.0,641.0 190.0,639.0 193.0,651.0 196.0,663.6 199.0,652.4 202.0,664.0 205.0,669.6 208.0,669.0 212.0,660.4 215.0,669.0 217.6,675.0 221.0,662.0 223.0,659.0 225.0,660.0 227.6,655.6 230.0,658.0 234.0,657.6 236.0,659.6 239.0,674.0 241.6,683.0 244.0,676.0 246.0,671.0 248.0,674.0 251.0,663.0 254.0,661.0 257.0,669.0 260.0,676.0 263.0,671.0 265.0,670.0 268.0,678.0 271.0,671.0 274.0,666.0 277.0,675.0 280.0,679.6 283.0,675.0 286.0,687.0 288.0,679.0 290.0,682.0 292.0,669.0 295.0,666.0 298.0,662.0 301.0,666.0 303.0,658.4 305.0,656.0 308.0,658.0 310.0,662.0 313.0,659.6 316.0,649.0 319.0,650.0 323.0,654.0 326.0,647.6 329.6,641.6 334.0,639.6 338.0,637.6 341.0,645.0 345.0,636.0 348.0,640.0 350.0,641.0 352.0,652.0 354.0,651.0 356.0,655.0 358.0,652.4 360.0,660.0 364.0,676.0 367.0,674.0 370.0,669.0 374.0,676.0 377.0,667.0 380.0,660.0 382.0,661.0 384.0,651.6 388.0,647.0 392.0,643.0 395.0,642.0 398.0,638.0 401.0,639.0 404.0,638.0 407.0,643.0 410.0,638.0 414.0,635.0 418.0,628.4 421.0,629.0 424.0,635.0 427.0,640.0 428.0,640.0 431.0,629.6 434.0,627.0 437.0,624.4 439.0,649.0 442.0,646.0 445.0,643.0 447.0,641.0 449.0,638.4 451.0,643.0 454.0,655.0 457.0,643.0 460.0,640.0 462.4,635.6 465.0,643.0 468.0,642.4 470.4,655.0 474.0,649.0 478.0,643.0 482.0,640.0 486.0,629.6 490.0,657.0 493.0,658.0 496.0,657.0 498.0,663.0 500.0,667.0 502.6,674.4 505.0,664.0 508.0,656.0 511.0,652.0 513.0,650.0 515.0,648.0 517.0,656.0 520.0,655.0 524.0,650.0 527.0,649.0 530.0,654.0 533.0,646.0 536.0,640.0 541.0,634.0 547.0,629.6 551.0,638.0 554.0,661.0 558.0,682.0 560.0,677.0 563.0,685.6 565.0,670.0 568.0,667.0 571.0,664.0 573.0,660.0 576.0,662.0 579.0,661.0 582.0,664.4 586.0,660.0 589.0,662.0 592.0,658.0 595.0,665.0 599.0,658.0 602.0,647.0 607.0,641.0 611.0,640.0 613.0,637.6 615.0,643.0 617.6,660.0 621.0,644.4 623.0,643.6 626.0,646.4 630.0,649.0 633.0,648.0 636.0,662.0 639.0,669.0 641.6,677.0 644.0,673.0 647.6,679.0 650.0,673.0 652.0,672.0 655.0,663.0 657.6,656.0 660.0,666.0 663.0,658.0 666.0,649.0 670.0,647.6 673.0,648.0 676.0,645.0 678.0,650.0 680.4,641.6 684.0,643.0 686.0,643.0 688.0,640.6 690.0,647.0 692.0,658.0 695.0,653.6 698.0,655.0 700.0,674.0 702.0,683.0 704.4,689.0 707.0,706.0 710.4,709.6 712.0,688.0 715.0,684.0 718.0,674.4 720.0,680.0 723.0,681.6 726.0,667.0 729.0,664.4 733.0,658.0 737.0,654.0 741.0,651.0 745.0,652.0 748.0,650.0 751.0,644.4 753.6,651.6 757.0,649.0" fill="none" stroke="#4d5670" stroke-width="2" stroke-linejoin="round" />
<line x1="533" y1="627" x2="788" y2="659.4" stroke="#dd2233" stroke-width="2.2" stroke-dasharray="5,3"/>
<line x1="563" y1="686" x2="761" y2="671" stroke="#1a22cc" stroke-width="2.4"/>
<rect x="17" y="592" width="74" height="10" fill="#fff" fill-opacity="0.6"/>
<path d="M19 602 l3 -5 l2 3 l2 -3 l3 5 z" fill="#8a92a6" stroke="#4d5670" stroke-width="1"/>
<text x="29" y="601.5" font-size="10" font-weight="normal" fill="#222" text-anchor="start" textLength="60" lengthAdjust="spacingAndGlyphs" >RSI(14) 60.90</text>
<text x="854" y="716.06" font-size="10" font-weight="normal" fill="#222" text-anchor="start" textLength="11" lengthAdjust="spacingAndGlyphs" >10</text>
<text x="854" y="690.48" font-size="10" font-weight="normal" fill="#222" text-anchor="start" textLength="11" lengthAdjust="spacingAndGlyphs" >30</text>
<text x="854" y="664.9" font-size="10" font-weight="normal" fill="#222" text-anchor="start" textLength="11" lengthAdjust="spacingAndGlyphs" >50</text>
<text x="854" y="639.3199999999999" font-size="10" font-weight="normal" fill="#222" text-anchor="start" textLength="11" lengthAdjust="spacingAndGlyphs" >70</text>
<text x="854" y="613.74" font-size="10" font-weight="normal" fill="#222" text-anchor="start" textLength="11" lengthAdjust="spacingAndGlyphs" >90</text>
<rect x="850" y="726" width="2" height="1" fill="#8c8c8c"/>
<rect x="850" y="719" width="2" height="1" fill="#8c8c8c"/>
<rect x="850" y="713" width="2" height="1" fill="#8c8c8c"/>
<rect x="850" y="707" width="2" height="1" fill="#8c8c8c"/>
<rect x="850" y="700" width="2" height="1" fill="#8c8c8c"/>
<rect x="850" y="694" width="2" height="1" fill="#8c8c8c"/>
<rect x="850" y="687" width="2" height="1" fill="#8c8c8c"/>
<rect x="850" y="681" width="2" height="1" fill="#8c8c8c"/>
<rect x="850" y="675" width="2" height="1" fill="#8c8c8c"/>
<rect x="850" y="668" width="2" height="1" fill="#8c8c8c"/>
<rect x="850" y="662" width="2" height="1" fill="#8c8c8c"/>
<rect x="850" y="656" width="2" height="1" fill="#8c8c8c"/>
<rect x="850" y="649" width="2" height="1" fill="#8c8c8c"/>
<rect x="850" y="643" width="2" height="1" fill="#8c8c8c"/>
<rect x="850" y="636" width="2" height="1" fill="#8c8c8c"/>
<rect x="850" y="630" width="2" height="1" fill="#8c8c8c"/>
<rect x="850" y="624" width="2" height="1" fill="#8c8c8c"/>
<rect x="850" y="617" width="2" height="1" fill="#8c8c8c"/>
<rect x="850" y="611" width="2" height="1" fill="#8c8c8c"/>
<rect x="850" y="604" width="2" height="1" fill="#8c8c8c"/>
<rect x="850" y="598" width="2" height="1" fill="#8c8c8c"/>
<rect x="16" y="733" width="834" height="17" fill="#fff"/>
<rect x="19" y="733" width="1" height="3" fill="#8c8c8c"/>
<text x="19.5" y="745" font-size="10" font-weight="normal" fill="#222" text-anchor="middle" textLength="14" lengthAdjust="spacingAndGlyphs" >Jul</text>
<rect x="46" y="733" width="1" height="3" fill="#8c8c8c"/>
<text x="46.5" y="745" font-size="10" font-weight="normal" fill="#222" text-anchor="middle" textLength="15.5" lengthAdjust="spacingAndGlyphs" >Oct</text>
<rect x="72" y="733" width="1" height="3" fill="#8c8c8c"/>
<text x="72.5" y="745" font-size="11" font-weight="bold" fill="#1c2530" text-anchor="middle" textLength="12" lengthAdjust="spacingAndGlyphs" >14</text>
<rect x="97" y="733" width="1" height="3" fill="#8c8c8c"/>
<text x="97.5" y="745" font-size="10" font-weight="normal" fill="#222" text-anchor="middle" textLength="15.5" lengthAdjust="spacingAndGlyphs" >Apr</text>
<rect x="123" y="733" width="1" height="3" fill="#8c8c8c"/>
<text x="123.5" y="745" font-size="10" font-weight="normal" fill="#222" text-anchor="middle" textLength="14" lengthAdjust="spacingAndGlyphs" >Jul</text>
<rect x="148" y="733" width="1" height="3" fill="#8c8c8c"/>
<text x="148.5" y="745" font-size="10" font-weight="normal" fill="#222" text-anchor="middle" textLength="15.5" lengthAdjust="spacingAndGlyphs" >Oct</text>
<rect x="174" y="733" width="1" height="3" fill="#8c8c8c"/>
<text x="174.5" y="745" font-size="11" font-weight="bold" fill="#1c2530" text-anchor="middle" textLength="12" lengthAdjust="spacingAndGlyphs" >15</text>
<rect x="199" y="733" width="1" height="3" fill="#8c8c8c"/>
<text x="199.5" y="745" font-size="10" font-weight="normal" fill="#222" text-anchor="middle" textLength="15.5" lengthAdjust="spacingAndGlyphs" >Apr</text>
<rect x="225" y="733" width="1" height="3" fill="#8c8c8c"/>
<text x="225.5" y="745" font-size="10" font-weight="normal" fill="#222" text-anchor="middle" textLength="14" lengthAdjust="spacingAndGlyphs" >Jul</text>
<rect x="250" y="733" width="1" height="3" fill="#8c8c8c"/>
<text x="250.5" y="745" font-size="10" font-weight="normal" fill="#222" text-anchor="middle" textLength="15.5" lengthAdjust="spacingAndGlyphs" >Oct</text>
<rect x="276" y="733" width="1" height="3" fill="#8c8c8c"/>
<text x="276.5" y="745" font-size="11" font-weight="bold" fill="#1c2530" text-anchor="middle" textLength="12" lengthAdjust="spacingAndGlyphs" >16</text>
<rect x="301" y="733" width="1" height="3" fill="#8c8c8c"/>
<text x="301.5" y="745" font-size="10" font-weight="normal" fill="#222" text-anchor="middle" textLength="15.5" lengthAdjust="spacingAndGlyphs" >Apr</text>
<rect x="327" y="733" width="1" height="3" fill="#8c8c8c"/>
<text x="327.5" y="745" font-size="10" font-weight="normal" fill="#222" text-anchor="middle" textLength="14" lengthAdjust="spacingAndGlyphs" >Jul</text>
<rect x="352" y="733" width="1" height="3" fill="#8c8c8c"/>
<text x="352.5" y="745" font-size="10" font-weight="normal" fill="#222" text-anchor="middle" textLength="15.5" lengthAdjust="spacingAndGlyphs" >Oct</text>
<rect x="378" y="733" width="1" height="3" fill="#8c8c8c"/>
<text x="378.5" y="745" font-size="11" font-weight="bold" fill="#1c2530" text-anchor="middle" textLength="12" lengthAdjust="spacingAndGlyphs" >17</text>
<rect x="404" y="733" width="1" height="3" fill="#8c8c8c"/>
<text x="404.5" y="745" font-size="10" font-weight="normal" fill="#222" text-anchor="middle" textLength="15.5" lengthAdjust="spacingAndGlyphs" >Apr</text>
<rect x="429" y="733" width="1" height="3" fill="#8c8c8c"/>
<text x="429.5" y="745" font-size="10" font-weight="normal" fill="#222" text-anchor="middle" textLength="14" lengthAdjust="spacingAndGlyphs" >Jul</text>
<rect x="455" y="733" width="1" height="3" fill="#8c8c8c"/>
<text x="455.5" y="745" font-size="10" font-weight="normal" fill="#222" text-anchor="middle" textLength="15.5" lengthAdjust="spacingAndGlyphs" >Oct</text>
<rect x="480" y="733" width="1" height="3" fill="#8c8c8c"/>
<text x="480.5" y="745" font-size="11" font-weight="bold" fill="#1c2530" text-anchor="middle" textLength="12" lengthAdjust="spacingAndGlyphs" >18</text>
<rect x="506" y="733" width="1" height="3" fill="#8c8c8c"/>
<text x="506.5" y="745" font-size="10" font-weight="normal" fill="#222" text-anchor="middle" textLength="15.5" lengthAdjust="spacingAndGlyphs" >Apr</text>
<rect x="531" y="733" width="1" height="3" fill="#8c8c8c"/>
<text x="531.5" y="745" font-size="10" font-weight="normal" fill="#222" text-anchor="middle" textLength="14" lengthAdjust="spacingAndGlyphs" >Jul</text>
<rect x="557" y="733" width="1" height="3" fill="#8c8c8c"/>
<text x="557.5" y="745" font-size="10" font-weight="normal" fill="#222" text-anchor="middle" textLength="15.5" lengthAdjust="spacingAndGlyphs" >Oct</text>
<rect x="584" y="733" width="1" height="3" fill="#8c8c8c"/>
<text x="584.5" y="745" font-size="11" font-weight="bold" fill="#1c2530" text-anchor="middle" textLength="12" lengthAdjust="spacingAndGlyphs" >19</text>
<rect x="608" y="733" width="1" height="3" fill="#8c8c8c"/>
<text x="608.5" y="745" font-size="10" font-weight="normal" fill="#222" text-anchor="middle" textLength="15.5" lengthAdjust="spacingAndGlyphs" >Apr</text>
<rect x="633" y="733" width="1" height="3" fill="#8c8c8c"/>
<text x="633.5" y="745" font-size="10" font-weight="normal" fill="#222" text-anchor="middle" textLength="14" lengthAdjust="spacingAndGlyphs" >Jul</text>
<rect x="661" y="733" width="1" height="3" fill="#8c8c8c"/>
<text x="661.5" y="745" font-size="10" font-weight="normal" fill="#222" text-anchor="middle" textLength="15.5" lengthAdjust="spacingAndGlyphs" >Oct</text>
<rect x="686" y="733" width="1" height="3" fill="#8c8c8c"/>
<text x="686.5" y="745" font-size="11" font-weight="bold" fill="#1c2530" text-anchor="middle" textLength="12" lengthAdjust="spacingAndGlyphs" >20</text>
<rect x="712" y="733" width="1" height="3" fill="#8c8c8c"/>
<text x="712.5" y="745" font-size="10" font-weight="normal" fill="#222" text-anchor="middle" textLength="15.5" lengthAdjust="spacingAndGlyphs" >Apr</text>
<rect x="737" y="733" width="1" height="3" fill="#8c8c8c"/>
<text x="737.5" y="745" font-size="10" font-weight="normal" fill="#222" text-anchor="middle" textLength="14" lengthAdjust="spacingAndGlyphs" >Jul</text>
<rect x="763" y="733" width="1" height="3" fill="#8c8c8c"/>
<text x="763.5" y="745" font-size="10" font-weight="normal" fill="#222" text-anchor="middle" textLength="15.5" lengthAdjust="spacingAndGlyphs" >Oct</text>
<rect x="788" y="733" width="1" height="3" fill="#8c8c8c"/>
<text x="788.5" y="745" font-size="11" font-weight="bold" fill="#1c2530" text-anchor="middle" textLength="12" lengthAdjust="spacingAndGlyphs" >21</text>
<rect x="814" y="733" width="1" height="3" fill="#8c8c8c"/>
<text x="814.5" y="745" font-size="10" font-weight="normal" fill="#222" text-anchor="middle" textLength="15.5" lengthAdjust="spacingAndGlyphs" >Apr</text>
<rect x="840" y="733" width="1" height="3" fill="#8c8c8c"/>
<text x="840.5" y="745" font-size="10" font-weight="normal" fill="#222" text-anchor="middle" textLength="14" lengthAdjust="spacingAndGlyphs" >Jul</text>
<rect x="905" y="28" width="95" height="142" fill="#f0f0f0"/>
<rect x="918" y="28" width="1" height="142" fill="#cdd0d5"/>
<rect x="943" y="28" width="1" height="142" fill="#cdd0d5"/>
<rect x="963" y="28" width="1" height="142" fill="#cdd0d5"/>
<rect x="988" y="28" width="1" height="142" fill="#cdd0d5"/>
<rect x="905" y="166" width="95" height="1" fill="#cdd0d5"/>
<rect x="905" y="148" width="95" height="1" fill="#cdd0d5"/>
<rect x="905" y="130" width="95" height="1" fill="#cdd0d5"/>
<rect x="905" y="111" width="95" height="1" fill="#cdd0d5"/>
<rect x="905" y="93" width="95" height="1" fill="#cdd0d5"/>
<rect x="905" y="74" width="95" height="1" fill="#cdd0d5"/>
<rect x="905" y="56" width="95" height="1" fill="#cdd0d5"/>
<rect x="905" y="38" width="95" height="1" fill="#cdd0d5"/>
<clipPath id="cmv"><rect x="905" y="28" width="95" height="142"/></clipPath>
<polyline points="906.8,28.0 908.4,36.0 912.4,51.2 918.5,69.1 923.3,50.9 928.4,59.2 933.2,68.8 938.0,96.0 943.6,104.0 948.9,110.4 954.0,107.2 958.8,110.4 962.8,121.0 968.4,132.8 978.0,163.2 983.3,129.6 988.4,142.4 993.7,148.0" fill="none" stroke="#4d5670" stroke-width="2" stroke-linejoin="round" clip-path="url(#cmv)"/>
<text x="1003" y="169.4" font-size="10" font-weight="normal" fill="#222" text-anchor="start" textLength="11" lengthAdjust="spacingAndGlyphs" >18</text>
<rect x="1000" y="166" width="3" height="1" fill="#8c8c8c"/>
<text x="1003" y="151.0" font-size="10" font-weight="normal" fill="#222" text-anchor="start" textLength="11" lengthAdjust="spacingAndGlyphs" >20</text>
<rect x="1000" y="148" width="3" height="1" fill="#8c8c8c"/>
<text x="1003" y="132.6" font-size="10" font-weight="normal" fill="#222" text-anchor="start" textLength="11" lengthAdjust="spacingAndGlyphs" >22</text>
<rect x="1000" y="130" width="3" height="1" fill="#8c8c8c"/>
<text x="1003" y="114.2" font-size="10" font-weight="normal" fill="#222" text-anchor="start" textLength="11" lengthAdjust="spacingAndGlyphs" >24</text>
<rect x="1000" y="111" width="3" height="1" fill="#8c8c8c"/>
<text x="1003" y="95.80000000000001" font-size="10" font-weight="normal" fill="#222" text-anchor="start" textLength="11" lengthAdjust="spacingAndGlyphs" >26</text>
<rect x="1000" y="93" width="3" height="1" fill="#8c8c8c"/>
<text x="1003" y="77.4" font-size="10" font-weight="normal" fill="#222" text-anchor="start" textLength="11" lengthAdjust="spacingAndGlyphs" >28</text>
<rect x="1000" y="74" width="3" height="1" fill="#8c8c8c"/>
<text x="1003" y="59.0" font-size="10" font-weight="normal" fill="#222" text-anchor="start" textLength="11" lengthAdjust="spacingAndGlyphs" >30</text>
<rect x="1000" y="56" width="3" height="1" fill="#8c8c8c"/>
<text x="1003" y="40.60000000000001" font-size="10" font-weight="normal" fill="#222" text-anchor="start" textLength="11" lengthAdjust="spacingAndGlyphs" >32</text>
<rect x="1000" y="38" width="3" height="1" fill="#8c8c8c"/>
<rect x="905" y="170" width="95" height="407" fill="#f0f0f0"/>
<rect x="918" y="170" width="1" height="407" fill="#cdd0d5"/>
<rect x="943" y="170" width="1" height="407" fill="#cdd0d5"/>
<rect x="963" y="170" width="1" height="407" fill="#cdd0d5"/>
<rect x="988" y="170" width="1" height="407" fill="#cdd0d5"/>
<rect x="905" y="558" width="95" height="1" fill="#cdd0d5"/>
<rect x="905" y="533" width="95" height="1" fill="#cdd0d5"/>
<rect x="905" y="508" width="95" height="1" fill="#cdd0d5"/>
<rect x="905" y="484" width="95" height="1" fill="#cdd0d5"/>
<rect x="905" y="459" width="95" height="1" fill="#cdd0d5"/>
<rect x="905" y="435" width="95" height="1" fill="#cdd0d5"/>
<rect x="905" y="410" width="95" height="1" fill="#cdd0d5"/>
<rect x="905" y="385" width="95" height="1" fill="#cdd0d5"/>
<rect x="905" y="361" width="95" height="1" fill="#cdd0d5"/>
<rect x="905" y="336" width="95" height="1" fill="#cdd0d5"/>
<rect x="905" y="311" width="95" height="1" fill="#cdd0d5"/>
<rect x="905" y="287" width="95" height="1" fill="#cdd0d5"/>
<rect x="905" y="262" width="95" height="1" fill="#cdd0d5"/>
<rect x="905" y="238" width="95" height="1" fill="#cdd0d5"/>
<rect x="905" y="213" width="95" height="1" fill="#cdd0d5"/>
<rect x="905" y="188" width="95" height="1" fill="#cdd0d5"/>
<rect x="907.9" y="513" width="1" height="46" fill="#000"/>
<rect x="906.4" y="515" width="4" height="15" fill="#000"/>
<rect x="912.9" y="461" width="1" height="75" fill="#000"/>
<rect x="911.9" y="463.5" width="3" height="58.39999999999998" fill="#fff" stroke="#000" stroke-width="1"/>
<rect x="917.9" y="389" width="1" height="59" fill="#000"/>
<rect x="916.9" y="394.5" width="3" height="51" fill="#fff" stroke="#000" stroke-width="1"/>
<rect x="922.9" y="371" width="1" height="97" fill="#000"/>
<rect x="921.4" y="371" width="4" height="44" fill="#000"/>
<rect x="927.9" y="378" width="1" height="68" fill="#000"/>
<rect x="926.9" y="381.5" width="3" height="39" fill="#fff" stroke="#000" stroke-width="1"/>
<rect x="932.9" y="343" width="1" height="45" fill="#000"/>
<rect x="931.9" y="364.5" width="3" height="7" fill="#fff" stroke="#000" stroke-width="1"/>
<rect x="937.9" y="333" width="1" height="50" fill="#000"/>
<rect x="936.9" y="336.5" width="3" height="36" fill="#fff" stroke="#000" stroke-width="1"/>
<rect x="942.9" y="306" width="1" height="23" fill="#000"/>
<rect x="941.9" y="316.5" width="3" height="5" fill="#fff" stroke="#000" stroke-width="1"/>
<rect x="947.9" y="298" width="1" height="44" fill="#000"/>
<rect x="946.9" y="300.5" width="3" height="6" fill="#fff" stroke="#000" stroke-width="1"/>
<rect x="952.9" y="258" width="1" height="36" fill="#000"/>
<rect x="951.9" y="264.5" width="3" height="23" fill="#fff" stroke="#000" stroke-width="1"/>
<rect x="957.9" y="245" width="1" height="34" fill="#000"/>
<rect x="956.4" y="260" width="4" height="19" fill="#000"/>
<rect x="962.9" y="256" width="1" height="46" fill="#000"/>
<rect x="961.9" y="262.1" width="3" height="17.399999999999977" fill="#fff" stroke="#000" stroke-width="1"/>
<rect x="967.9" y="241" width="1" height="33" fill="#000"/>
<rect x="966.4" y="254" width="4" height="12" fill="#000"/>
<rect x="972.9" y="231" width="1" height="39" fill="#000"/>
<rect x="971.9" y="242.5" width="3" height="14" fill="#fff" stroke="#000" stroke-width="1"/>
<rect x="977.9" y="203" width="1" height="34" fill="#000"/>
<rect x="976.9" y="208.5" width="3" height="28" fill="#fff" stroke="#000" stroke-width="1"/>
<rect x="982.9" y="189" width="1" height="62" fill="#000"/>
<rect x="981.4" y="192" width="4" height="54" fill="#000"/>
<rect x="987.9" y="228" width="1" height="38" fill="#000"/>
<rect x="986.9" y="230.5" width="3" height="12" fill="#fff" stroke="#000" stroke-width="1"/>
<rect x="992.9" y="211" width="1" height="30" fill="#000"/>
<rect x="991.4" y="221" width="4" height="5" fill="#000"/>
<path d="M906.0,272.0 C908.3,274.7 915.0,283.8 920.0,288.0 C925.0,292.2 931.0,295.0 936.0,297.0 C941.0,299.0 944.3,299.8 950.0,300.0 C955.7,300.2 962.8,298.7 970.0,298.0 C977.2,297.3 989.2,296.0 993.0,295.6" fill="none" stroke="#10107a" stroke-width="2.2" stroke-linejoin="round" />
<path d="M906.0,274.0 C908.3,275.0 912.7,278.2 920.0,280.0 C927.3,281.8 942.3,284.0 950.0,285.0 C957.7,286.0 961.0,286.3 966.0,286.0 C971.0,285.7 975.5,283.8 980.0,283.0 C984.5,282.2 990.8,281.3 993.0,281.0" fill="none" stroke="#3aa090" stroke-width="2.2" stroke-linejoin="round" />
<path d="M906.0,369.6 C910.0,368.9 922.7,367.2 930.0,365.6 C937.3,364.0 943.3,361.9 950.0,360.0 C956.7,358.1 962.8,356.4 970.0,354.0 C977.2,351.6 989.2,347.0 993.0,345.6" fill="none" stroke="#9462c4" stroke-width="1.3" stroke-linejoin="round" />
<text x="1033" y="560.6" font-size="10" font-weight="normal" fill="#222" text-anchor="end" textLength="22" lengthAdjust="spacingAndGlyphs" >8800</text>
<text x="1033" y="535.98" font-size="10" font-weight="normal" fill="#222" text-anchor="end" textLength="22" lengthAdjust="spacingAndGlyphs" >9000</text>
<text x="1033" y="511.36" font-size="10" font-weight="normal" fill="#222" text-anchor="end" textLength="22" lengthAdjust="spacingAndGlyphs" >9200</text>
<text x="1033" y="486.74" font-size="10" font-weight="normal" fill="#222" text-anchor="end" textLength="22" lengthAdjust="spacingAndGlyphs" >9400</text>
<text x="1033" y="462.12" font-size="10" font-weight="normal" fill="#222" text-anchor="end" textLength="22" lengthAdjust="spacingAndGlyphs" >9600</text>
<text x="1033" y="437.5" font-size="10" font-weight="normal" fill="#222" text-anchor="end" textLength="22" lengthAdjust="spacingAndGlyphs" >9800</text>
<text x="1033" y="412.88" font-size="10" font-weight="normal" fill="#222" text-anchor="end" textLength="27.5" lengthAdjust="spacingAndGlyphs" >10000</text>
<text x="1033" y="388.26" font-size="10" font-weight="normal" fill="#222" text-anchor="end" textLength="27.5" lengthAdjust="spacingAndGlyphs" >10200</text>
<text x="1033" y="363.64" font-size="10" font-weight="normal" fill="#222" text-anchor="end" textLength="27.5" lengthAdjust="spacingAndGlyphs" >10400</text>
<text x="1033" y="339.02" font-size="10" font-weight="normal" fill="#222" text-anchor="end" textLength="27.5" lengthAdjust="spacingAndGlyphs" >10600</text>
<text x="1033" y="314.4" font-size="10" font-weight="normal" fill="#222" text-anchor="end" textLength="27.5" lengthAdjust="spacingAndGlyphs" >10800</text>
<text x="1033" y="289.78000000000003" font-size="10" font-weight="normal" fill="#222" text-anchor="end" textLength="27.5" lengthAdjust="spacingAndGlyphs" >11000</text>
<text x="1033" y="265.16" font-size="10" font-weight="normal" fill="#222" text-anchor="end" textLength="27.5" lengthAdjust="spacingAndGlyphs" >11200</text>
<text x="1033" y="240.54000000000002" font-size="10" font-weight="normal" fill="#222" text-anchor="end" textLength="27.5" lengthAdjust="spacingAndGlyphs" >11400</text>
<text x="1033" y="215.92000000000002" font-size="10" font-weight="normal" fill="#222" text-anchor="end" textLength="27.5" lengthAdjust="spacingAndGlyphs" >11600</text>
<text x="1033" y="191.3" font-size="10" font-weight="normal" fill="#222" text-anchor="end" textLength="27.5" lengthAdjust="spacingAndGlyphs" >11800</text>
<rect x="1000" y="570" width="2" height="1" fill="#8c8c8c"/>
<rect x="1000" y="558" width="3" height="1" fill="#8c8c8c"/>
<rect x="1000" y="545" width="2" height="1" fill="#8c8c8c"/>
<rect x="1000" y="533" width="3" height="1" fill="#8c8c8c"/>
<rect x="1000" y="521" width="2" height="1" fill="#8c8c8c"/>
<rect x="1000" y="508" width="3" height="1" fill="#8c8c8c"/>
<rect x="1000" y="496" width="2" height="1" fill="#8c8c8c"/>
<rect x="1000" y="484" width="3" height="1" fill="#8c8c8c"/>
<rect x="1000" y="471" width="2" height="1" fill="#8c8c8c"/>
<rect x="1000" y="459" width="3" height="1" fill="#8c8c8c"/>
<rect x="1000" y="447" width="2" height="1" fill="#8c8c8c"/>
<rect x="1000" y="435" width="3" height="1" fill="#8c8c8c"/>
<rect x="1000" y="422" width="2" height="1" fill="#8c8c8c"/>
<rect x="1000" y="410" width="3" height="1" fill="#8c8c8c"/>
<rect x="1000" y="398" width="2" height="1" fill="#8c8c8c"/>
<rect x="1000" y="385" width="3" height="1" fill="#8c8c8c"/>
<rect x="1000" y="373" width="2" height="1" fill="#8c8c8c"/>
<rect x="1000" y="361" width="3" height="1" fill="#8c8c8c"/>
<rect x="1000" y="348" width="2" height="1" fill="#8c8c8c"/>
<rect x="1000" y="336" width="3" height="1" fill="#8c8c8c"/>
<rect x="1000" y="324" width="2" height="1" fill="#8c8c8c"/>
<rect x="1000" y="311" width="3" height="1" fill="#8c8c8c"/>
<rect x="1000" y="299" width="2" height="1" fill="#8c8c8c"/>
<rect x="1000" y="287" width="3" height="1" fill="#8c8c8c"/>
<rect x="1000" y="274" width="2" height="1" fill="#8c8c8c"/>
<rect x="1000" y="262" width="3" height="1" fill="#8c8c8c"/>
<rect x="1000" y="250" width="2" height="1" fill="#8c8c8c"/>
<rect x="1000" y="238" width="3" height="1" fill="#8c8c8c"/>
<rect x="1000" y="225" width="2" height="1" fill="#8c8c8c"/>
<rect x="1000" y="213" width="3" height="1" fill="#8c8c8c"/>
<rect x="1000" y="201" width="2" height="1" fill="#8c8c8c"/>
<rect x="1000" y="188" width="3" height="1" fill="#8c8c8c"/>
<rect x="905" y="577" width="95" height="14" fill="#fff"/>
<text x="918.5" y="588" font-size="10" font-weight="normal" fill="#222" text-anchor="middle" >J</text>
<text x="918.5" y="745" font-size="10" font-weight="normal" fill="#222" text-anchor="middle" >J</text>
<text x="943.5" y="588" font-size="10" font-weight="normal" fill="#222" text-anchor="middle" >J</text>
<text x="943.5" y="745" font-size="10" font-weight="normal" fill="#222" text-anchor="middle" >J</text>
<text x="963.5" y="588" font-size="10" font-weight="normal" fill="#222" text-anchor="middle" >A</text>
<text x="963.5" y="745" font-size="10" font-weight="normal" fill="#222" text-anchor="middle" >A</text>
<text x="988.5" y="588" font-size="10" font-weight="normal" fill="#222" text-anchor="middle" >S</text>
<text x="988.5" y="745" font-size="10" font-weight="normal" fill="#222" text-anchor="middle" >S</text>
<rect x="905" y="591" width="95" height="142" fill="#f0f0f0"/>
<rect x="918" y="591" width="1" height="142" fill="#cdd0d5"/>
<rect x="943" y="591" width="1" height="142" fill="#cdd0d5"/>
<rect x="963" y="591" width="1" height="142" fill="#cdd0d5"/>
<rect x="988" y="591" width="1" height="142" fill="#cdd0d5"/>
<rect x="905" y="726" width="95" height="1" fill="#cdd0d5"/>
<rect x="905" y="713" width="95" height="1" fill="#cdd0d5"/>
<rect x="905" y="700" width="95" height="1" fill="#cdd0d5"/>
<rect x="905" y="687" width="95" height="1" fill="#cdd0d5"/>
<rect x="905" y="675" width="95" height="1" fill="#cdd0d5"/>
<rect x="905" y="662" width="95" height="1" fill="#cdd0d5"/>
<rect x="905" y="649" width="95" height="1" fill="#cdd0d5"/>
<rect x="905" y="636" width="95" height="1" fill="#cdd0d5"/>
<rect x="905" y="624" width="95" height="1" fill="#cdd0d5"/>
<rect x="905" y="611" width="95" height="1" fill="#cdd0d5"/>
<rect x="905" y="598" width="95" height="1" fill="#cdd0d5"/>
<rect x="905" y="636" width="95" height="1" fill="#7d7d7d"/>
<rect x="905" y="687" width="95" height="1" fill="#7d7d7d"/>
<line x1="905" y1="662.5" x2="1000" y2="662.5" stroke="#8a8a8a" stroke-width="1" stroke-dasharray="8,3,2,3"/>
<polyline points="905.8,681.2 908.0,681.2 918.2,664.7 923.0,666.4 928.5,662.5 937.3,657.6 948.3,653.2 953.4,650.6 958.2,652.1 963.7,650.4 968.1,651.0 978.5,644.4 983.5,651.0 989.0,649.3 993.4,649.3" fill="none" stroke="#4d5670" stroke-width="2" stroke-linejoin="round" />
<text x="1003" y="716.06" font-size="10" font-weight="normal" fill="#222" text-anchor="start" textLength="11" lengthAdjust="spacingAndGlyphs" >10</text>
<text x="1003" y="690.48" font-size="10" font-weight="normal" fill="#222" text-anchor="start" textLength="11" lengthAdjust="spacingAndGlyphs" >30</text>
<text x="1003" y="664.9" font-size="10" font-weight="normal" fill="#222" text-anchor="start" textLength="11" lengthAdjust="spacingAndGlyphs" >50</text>
<text x="1003" y="639.3199999999999" font-size="10" font-weight="normal" fill="#222" text-anchor="start" textLength="11" lengthAdjust="spacingAndGlyphs" >70</text>
<text x="1003" y="613.74" font-size="10" font-weight="normal" fill="#222" text-anchor="start" textLength="11" lengthAdjust="spacingAndGlyphs" >90</text>
<rect x="905.5" y="28.5" width="95" height="142" fill="none" stroke="#8c8c8c" stroke-width="1"/>
<rect x="905.5" y="170.5" width="95" height="407" fill="none" stroke="#8c8c8c" stroke-width="1"/>
<rect x="905.5" y="591.5" width="95" height="142" fill="none" stroke="#8c8c8c" stroke-width="1"/>
<rect x="16.5" y="28.5" width="834" height="142" fill="none" stroke="#8c8c8c" stroke-width="1"/>
<rect x="16.5" y="170.5" width="834" height="407" fill="none" stroke="#8c8c8c" stroke-width="1"/>
<rect x="16.5" y="591.5" width="834" height="142" fill="none" stroke="#8c8c8c" stroke-width="1"/>
<rect x="6.5" y="494.5" width="36" height="9" fill="#fff" fill-opacity="0.92" stroke="#a8a8a8" stroke-width="1"/>
<path d="M20.6 503.5 L25.6 508.5 L30.6 503.5" fill="none" stroke="#a8a8a8" stroke-width="1"/>
<text x="24.5" y="501.2" font-size="10" font-weight="normal" fill="#222" text-anchor="middle" textLength="31" lengthAdjust="spacingAndGlyphs" >6093.35</text>
<rect x="46.5" y="478.5" width="36" height="9" fill="#fff" fill-opacity="0.92" stroke="#a8a8a8" stroke-width="1"/>
<path d="M59 487.5 L64 492.5 L69 487.5" fill="none" stroke="#a8a8a8" stroke-width="1"/>
<text x="64.5" y="485.2" font-size="10" font-weight="normal" fill="#222" text-anchor="middle" textLength="31" lengthAdjust="spacingAndGlyphs" >6415.25</text>
<rect x="62.5" y="524.5" width="34" height="9" fill="#fff" fill-opacity="0.92" stroke="#a8a8a8" stroke-width="1"/>
<path d="M75 524.5 L80 519.5 L85 524.5" fill="none" stroke="#a8a8a8" stroke-width="1"/>
<text x="79.5" y="531.2" font-size="10" font-weight="normal" fill="#222" text-anchor="middle" textLength="29" lengthAdjust="spacingAndGlyphs" >5333.30</text>
<rect x="17.5" y="565.5" width="35" height="9" fill="#fff" fill-opacity="0.92" stroke="#a8a8a8" stroke-width="1"/>
<path d="M30 565.5 L35 560.5 L40 565.5" fill="none" stroke="#a8a8a8" stroke-width="1"/>
<text x="35.0" y="572.2" font-size="10" font-weight="normal" fill="#222" text-anchor="middle" textLength="30" lengthAdjust="spacingAndGlyphs" >5118.85</text>
<rect x="172.5" y="342.5" width="35" height="9" fill="#fff" fill-opacity="0.92" stroke="#a8a8a8" stroke-width="1"/>
<path d="M185.5 351.5 L190.5 356.5 L195.5 351.5" fill="none" stroke="#a8a8a8" stroke-width="1"/>
<text x="190.0" y="349.2" font-size="10" font-weight="normal" fill="#222" text-anchor="middle" textLength="30" lengthAdjust="spacingAndGlyphs" >9119.20</text>
<rect x="210.5" y="365.5" width="36" height="9" fill="#fff" fill-opacity="0.92" stroke="#a8a8a8" stroke-width="1"/>
<path d="M223 374.5 L228 379.5 L233 374.5" fill="none" stroke="#a8a8a8" stroke-width="1"/>
<text x="228.5" y="372.2" font-size="10" font-weight="normal" fill="#222" text-anchor="middle" textLength="31" lengthAdjust="spacingAndGlyphs" >8654.75</text>
<rect x="199.5" y="422.5" width="35" height="10" fill="#fff" fill-opacity="0.92" stroke="#a8a8a8" stroke-width="1"/>
<path d="M212 422.5 L217 417.5 L222 422.5" fill="none" stroke="#a8a8a8" stroke-width="1"/>
<text x="217.0" y="430.2" font-size="10" font-weight="normal" fill="#222" text-anchor="middle" textLength="30" lengthAdjust="spacingAndGlyphs" >7940.30</text>
<rect x="226.5" y="443.5" width="34" height="9" fill="#fff" fill-opacity="0.92" stroke="#a8a8a8" stroke-width="1"/>
<path d="M237 443.5 L242 438.5 L247 443.5" fill="none" stroke="#a8a8a8" stroke-width="1"/>
<text x="243.5" y="450.2" font-size="10" font-weight="normal" fill="#222" text-anchor="middle" textLength="29" lengthAdjust="spacingAndGlyphs" >7539.50</text>
<rect x="274.5" y="479.5" width="35" height="9" fill="#fff" fill-opacity="0.92" stroke="#a8a8a8" stroke-width="1"/>
<path d="M286.6 479.5 L291.6 474.5 L296.6 479.5" fill="none" stroke="#a8a8a8" stroke-width="1"/>
<text x="292.0" y="486.2" font-size="10" font-weight="normal" fill="#222" text-anchor="middle" textLength="30" lengthAdjust="spacingAndGlyphs" >6825.80</text>
<rect x="325.5" y="348.5" width="37" height="10" fill="#fff" fill-opacity="0.92" stroke="#a8a8a8" stroke-width="1"/>
<path d="M339.8 358.5 L344.8 363.5 L349.8 358.5" fill="none" stroke="#a8a8a8" stroke-width="1"/>
<text x="344.0" y="356.2" font-size="10" font-weight="normal" fill="#222" text-anchor="middle" textLength="32" lengthAdjust="spacingAndGlyphs" >8968.70</text>
<rect x="356.5" y="423.5" width="37" height="10" fill="#fff" fill-opacity="0.92" stroke="#a8a8a8" stroke-width="1"/>
<path d="M370.6 423.5 L375.6 418.5 L380.6 423.5" fill="none" stroke="#a8a8a8" stroke-width="1"/>
<text x="375.0" y="431.2" font-size="10" font-weight="normal" fill="#222" text-anchor="middle" textLength="32" lengthAdjust="spacingAndGlyphs" >7893.80</text>
<rect x="467.5" y="238.5" width="41" height="10" fill="#fff" fill-opacity="0.92" stroke="#a8a8a8" stroke-width="1"/>
<path d="M482 248.5 L487 253.5 L492 248.5" fill="none" stroke="#a8a8a8" stroke-width="1"/>
<text x="488.0" y="246.2" font-size="10" font-weight="normal" fill="#222" text-anchor="middle" textLength="36" lengthAdjust="spacingAndGlyphs" >11171.55</text>
<rect x="527.5" y="208.5" width="40" height="9" fill="#fff" fill-opacity="0.92" stroke="#a8a8a8" stroke-width="1"/>
<path d="M543 217.5 L548 222.5 L553 217.5" fill="none" stroke="#a8a8a8" stroke-width="1"/>
<text x="547.5" y="215.2" font-size="10" font-weight="normal" fill="#222" text-anchor="middle" textLength="35" lengthAdjust="spacingAndGlyphs" >11760.20</text>
<rect x="483.5" y="322.5" width="36" height="9" fill="#fff" fill-opacity="0.92" stroke="#a8a8a8" stroke-width="1"/>
<path d="M498 322.5 L503 317.5 L508 322.5" fill="none" stroke="#a8a8a8" stroke-width="1"/>
<text x="501.5" y="329.2" font-size="10" font-weight="normal" fill="#222" text-anchor="middle" textLength="31" lengthAdjust="spacingAndGlyphs" >9951.90</text>
<rect x="542.5" y="318.5" width="39" height="10" fill="#fff" fill-opacity="0.92" stroke="#a8a8a8" stroke-width="1"/>
<path d="M557 318.5 L562 313.5 L567 318.5" fill="none" stroke="#a8a8a8" stroke-width="1"/>
<text x="562.0" y="326.2" font-size="10" font-weight="normal" fill="#222" text-anchor="middle" textLength="34" lengthAdjust="spacingAndGlyphs" >10004.55</text>
<rect x="605.5" y="191.5" width="40" height="9" fill="#fff" fill-opacity="0.92" stroke="#a8a8a8" stroke-width="1"/>
<path d="M621 200.5 L626 205.5 L631 200.5" fill="none" stroke="#a8a8a8" stroke-width="1"/>
<text x="625.5" y="198.2" font-size="10" font-weight="normal" fill="#222" text-anchor="middle" textLength="35" lengthAdjust="spacingAndGlyphs" >12103.05</text>
<rect x="670.5" y="174.5" width="40" height="9" fill="#fff" fill-opacity="0.92" stroke="#a8a8a8" stroke-width="1"/>
<path d="M685 183.5 L690 188.5 L695 183.5" fill="none" stroke="#a8a8a8" stroke-width="1"/>
<text x="690.5" y="181.2" font-size="10" font-weight="normal" fill="#222" text-anchor="middle" textLength="35" lengthAdjust="spacingAndGlyphs" >12430.50</text>
<rect x="627.5" y="287.5" width="39" height="9" fill="#fff" fill-opacity="0.92" stroke="#a8a8a8" stroke-width="1"/>
<path d="M642 287.5 L647 282.5 L652 287.5" fill="none" stroke="#a8a8a8" stroke-width="1"/>
<text x="647.0" y="294.2" font-size="10" font-weight="normal" fill="#222" text-anchor="middle" textLength="34" lengthAdjust="spacingAndGlyphs" >10637.15</text>
<rect x="689.5" y="445.5" width="36" height="9" fill="#fff" fill-opacity="0.92" stroke="#a8a8a8" stroke-width="1"/>
<path d="M703 445.5 L708 440.5 L713 445.5" fill="none" stroke="#a8a8a8" stroke-width="1"/>
<text x="707.5" y="452.2" font-size="10" font-weight="normal" fill="#222" text-anchor="middle" textLength="31" lengthAdjust="spacingAndGlyphs" >7511.10</text>
<rect x="733.5" y="206.5" width="39" height="10" fill="#fff" fill-opacity="0.92" stroke="#a8a8a8" stroke-width="1"/>
<path d="M748 216.5 L753 221.5 L758 216.5" fill="none" stroke="#a8a8a8" stroke-width="1"/>
<text x="753.0" y="214.2" font-size="10" font-weight="normal" fill="#222" text-anchor="middle" textLength="34" lengthAdjust="spacingAndGlyphs" >11794.25</text>
<rect x="963.5" y="174.5" width="40" height="9" fill="#fff" fill-opacity="0.92" stroke="#a8a8a8" stroke-width="1"/>
<path d="M978.4 183.5 L983.4 188.5 L988.4 183.5" fill="none" stroke="#a8a8a8" stroke-width="1"/>
<text x="983.5" y="181.2" font-size="10" font-weight="normal" fill="#222" text-anchor="middle" textLength="35" lengthAdjust="spacingAndGlyphs" >11794.25</text>
<path d="M998 148.5 L1003 143.5 L1032 143.5 L1032 154.5 L1003 154.5 Z" fill="#fff" stroke="#1c2530" stroke-width="1"/>
<text x="1004" y="152.2" font-size="10" font-weight="bold" fill="#1c2530" text-anchor="start" textLength="26" lengthAdjust="spacingAndGlyphs" >20.05</text>
<path d="M998.5 225.5 L1003.5 220.5 L1048.5 220.5 L1048.5 231.5 L1003.5 231.5 Z" fill="#fff" stroke="#1c2530" stroke-width="1"/>
<text x="1004.5" y="229.2" font-size="10" font-weight="bold" fill="#1c2530" text-anchor="start" textLength="42.0" lengthAdjust="spacingAndGlyphs" >11504.95</text>
<path d="M998.5 280.5 L1003.5 276.0 L1048.5 276.0 L1048.5 286.0 L1003.5 286.0 Z" fill="#fff" stroke="#3aa090" stroke-width="1"/>
<text x="1004.5" y="283.7" font-size="10" font-weight="normal" fill="#222" text-anchor="start" textLength="42.0" lengthAdjust="spacingAndGlyphs" >11057.03</text>
<path d="M998.5 294.75 L1003.5 290.5 L1048.5 290.5 L1048.5 300.0 L1003.5 300.0 Z" fill="#fff" stroke="#10107a" stroke-width="1"/>
<text x="1004.5" y="297.7" font-size="10" font-weight="normal" fill="#222" text-anchor="start" textLength="42.0" lengthAdjust="spacingAndGlyphs" >10942.38</text>
<path d="M998.5 343.5 L1003.5 339.0 L1048.5 339.0 L1048.5 349.0 L1003.5 349.0 Z" fill="#fff" stroke="#9a6cc0" stroke-width="1"/>
<text x="1004.5" y="346.7" font-size="10" font-weight="normal" fill="#222" text-anchor="start" textLength="42.0" lengthAdjust="spacingAndGlyphs" >10532.30</text>
<path d="M1000 648.5 L1005 644.5 L1031.5 644.5 L1031.5 653.5 L1005 653.5 Z" fill="#fff" stroke="#4d5670" stroke-width="1"/>
<text x="1006" y="651.2" font-size="10" font-weight="normal" fill="#222" text-anchor="start" textLength="23.5" lengthAdjust="spacingAndGlyphs" >60.90</text>
</svg></body></html>
